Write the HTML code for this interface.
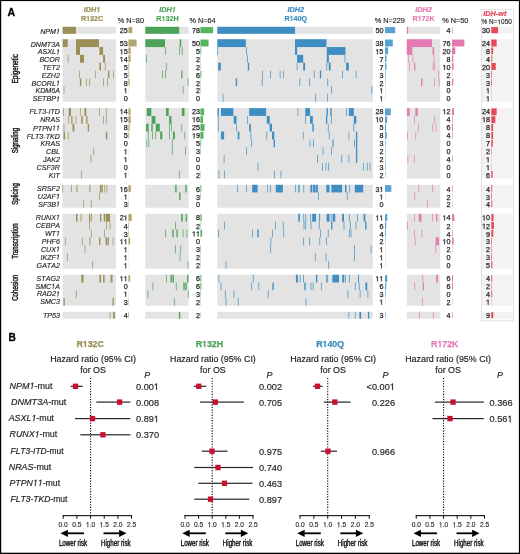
<!DOCTYPE html>
<html><head><meta charset="utf-8"><title>Figure</title>
<style>html,body{margin:0;padding:0;background:#fff;}body{width:520px;height:554px;overflow:hidden;}svg{display:block;will-change:transform;font-family:"Liberation Sans",sans-serif;}</style>
</head><body>
<svg width="520" height="554" viewBox="0 0 520 554">
<rect x="0" y="0" width="520" height="554" fill="#fff"/>
<text x="7.6" y="15.9" font-size="10.6" font-weight="bold" fill="#000" stroke="#000" stroke-width="0.3">A</text>
<g><text x="40.17" y="33.8" font-size="7.1" fill="#231f20" stroke="#231f20" stroke-width="0.15" style="font-kerning:none"><tspan font-style="italic">NPM </tspan></text><path transform="translate(55.951 33.8) scale(0.00347 -0.00347)" d="M412 0L650 1223L289 1000L324 1180L701 1409H867L593 0Z" fill="#231f20" stroke="#231f20" stroke-width="43.27" stroke-linejoin="round"/></g>
<g><text x="30.71" y="46.5" font-size="7.1" fill="#231f20" stroke="#231f20" stroke-width="0.15" style="font-kerning:none"><tspan font-style="italic">DNMT3A</tspan></text></g>
<g><text x="37.8" y="54.4" font-size="7.1" fill="#231f20" stroke="#231f20" stroke-width="0.15" style="font-kerning:none"><tspan font-style="italic">ASXL </tspan></text><path transform="translate(55.951 54.4) scale(0.00347 -0.00347)" d="M412 0L650 1223L289 1000L324 1180L701 1409H867L593 0Z" fill="#231f20" stroke="#231f20" stroke-width="43.27" stroke-linejoin="round"/></g>
<g><text x="39.39" y="62.1" font-size="7.1" fill="#231f20" stroke="#231f20" stroke-width="0.15" style="font-kerning:none"><tspan font-style="italic">BCOR</tspan></text></g>
<g><text x="42.54" y="70.1" font-size="7.1" fill="#231f20" stroke="#231f20" stroke-width="0.15" style="font-kerning:none"><tspan font-style="italic">TET2</tspan></text></g>
<g><text x="41.75" y="77.9" font-size="7.1" fill="#231f20" stroke="#231f20" stroke-width="0.15" style="font-kerning:none"><tspan font-style="italic">EZH2</tspan></text></g>
<g><text x="31.49" y="85.7" font-size="7.1" fill="#231f20" stroke="#231f20" stroke-width="0.15" style="font-kerning:none"><tspan font-style="italic">BCORL </tspan></text><path transform="translate(55.951 85.7) scale(0.00347 -0.00347)" d="M412 0L650 1223L289 1000L324 1180L701 1409H867L593 0Z" fill="#231f20" stroke="#231f20" stroke-width="43.27" stroke-linejoin="round"/></g>
<g><text x="35.44" y="93.4" font-size="7.1" fill="#231f20" stroke="#231f20" stroke-width="0.15" style="font-kerning:none"><tspan font-style="italic">KDM6A</tspan></text></g>
<g><text x="32.67" y="101.4" font-size="7.1" fill="#231f20" stroke="#231f20" stroke-width="0.15" style="font-kerning:none"><tspan font-style="italic">SETBP </tspan></text><path transform="translate(55.951 101.4) scale(0.00347 -0.00347)" d="M412 0L650 1223L289 1000L324 1180L701 1409H867L593 0Z" fill="#231f20" stroke="#231f20" stroke-width="43.27" stroke-linejoin="round"/></g>
<g><text x="29.53" y="114.3" font-size="7.1" fill="#231f20" stroke="#231f20" stroke-width="0.15" style="font-kerning:none"><tspan font-style="italic">FLT3-ITD</tspan></text></g>
<g><text x="40.17" y="122.3" font-size="7.1" fill="#231f20" stroke="#231f20" stroke-width="0.15" style="font-kerning:none"><tspan font-style="italic">NRAS</tspan></text></g>
<g><text x="33.07" y="130.5" font-size="7.1" fill="#231f20" stroke="#231f20" stroke-width="0.15" style="font-kerning:none"><tspan font-style="italic">PTPN  </tspan></text><path transform="translate(52.003 130.5) scale(0.00347 -0.00347)" d="M412 0L650 1223L289 1000L324 1180L701 1409H867L593 0Z" fill="#231f20" stroke="#231f20" stroke-width="43.27" stroke-linejoin="round"/><path transform="translate(55.951 130.5) scale(0.00347 -0.00347)" d="M412 0L650 1223L289 1000L324 1180L701 1409H867L593 0Z" fill="#231f20" stroke="#231f20" stroke-width="43.27" stroke-linejoin="round"/></g>
<g><text x="26.76" y="138.5" font-size="7.1" fill="#231f20" stroke="#231f20" stroke-width="0.15" style="font-kerning:none"><tspan font-style="italic">FLT3-TKD</tspan></text></g>
<g><text x="40.57" y="146.3" font-size="7.1" fill="#231f20" stroke="#231f20" stroke-width="0.15" style="font-kerning:none"><tspan font-style="italic">KRAS</tspan></text></g>
<g><text x="46.09" y="154.4" font-size="7.1" fill="#231f20" stroke="#231f20" stroke-width="0.15" style="font-kerning:none"><tspan font-style="italic">CBL</tspan></text></g>
<g><text x="42.93" y="162.3" font-size="7.1" fill="#231f20" stroke="#231f20" stroke-width="0.15" style="font-kerning:none"><tspan font-style="italic">JAK2</tspan></text></g>
<g><text x="36.62" y="170.3" font-size="7.1" fill="#231f20" stroke="#231f20" stroke-width="0.15" style="font-kerning:none"><tspan font-style="italic">CSF3R</tspan></text></g>
<g><text x="48.85" y="178" font-size="7.1" fill="#231f20" stroke="#231f20" stroke-width="0.15" style="font-kerning:none"><tspan font-style="italic">KIT</tspan></text></g>
<g><text x="37.02" y="191.2" font-size="7.1" fill="#231f20" stroke="#231f20" stroke-width="0.15" style="font-kerning:none"><tspan font-style="italic">SRSF2</tspan></text></g>
<g><text x="37.8" y="198.9" font-size="7.1" fill="#231f20" stroke="#231f20" stroke-width="0.15" style="font-kerning:none"><tspan font-style="italic">U2AF </tspan></text><path transform="translate(55.951 198.9) scale(0.00347 -0.00347)" d="M412 0L650 1223L289 1000L324 1180L701 1409H867L593 0Z" fill="#231f20" stroke="#231f20" stroke-width="43.27" stroke-linejoin="round"/></g>
<g><text x="38.19" y="206.6" font-size="7.1" fill="#231f20" stroke="#231f20" stroke-width="0.15" style="font-kerning:none"><tspan font-style="italic">SF3B </tspan></text><path transform="translate(55.951 206.6) scale(0.00347 -0.00347)" d="M412 0L650 1223L289 1000L324 1180L701 1409H867L593 0Z" fill="#231f20" stroke="#231f20" stroke-width="43.27" stroke-linejoin="round"/></g>
<g><text x="35.83" y="219.7" font-size="7.1" fill="#231f20" stroke="#231f20" stroke-width="0.15" style="font-kerning:none"><tspan font-style="italic">RUNX </tspan></text><path transform="translate(55.951 219.7) scale(0.00347 -0.00347)" d="M412 0L650 1223L289 1000L324 1180L701 1409H867L593 0Z" fill="#231f20" stroke="#231f20" stroke-width="43.27" stroke-linejoin="round"/></g>
<g><text x="35.83" y="228" font-size="7.1" fill="#231f20" stroke="#231f20" stroke-width="0.15" style="font-kerning:none"><tspan font-style="italic">CEBPA</tspan></text></g>
<g><text x="44.91" y="235.8" font-size="7.1" fill="#231f20" stroke="#231f20" stroke-width="0.15" style="font-kerning:none"><tspan font-style="italic">WT </tspan></text><path transform="translate(55.951 235.8) scale(0.00347 -0.00347)" d="M412 0L650 1223L289 1000L324 1180L701 1409H867L593 0Z" fill="#231f20" stroke="#231f20" stroke-width="43.27" stroke-linejoin="round"/></g>
<g><text x="41.75" y="243.6" font-size="7.1" fill="#231f20" stroke="#231f20" stroke-width="0.15" style="font-kerning:none"><tspan font-style="italic">PHF6</tspan></text></g>
<g><text x="40.96" y="251.6" font-size="7.1" fill="#231f20" stroke="#231f20" stroke-width="0.15" style="font-kerning:none"><tspan font-style="italic">CUX </tspan></text><path transform="translate(55.951 251.6) scale(0.00347 -0.00347)" d="M412 0L650 1223L289 1000L324 1180L701 1409H867L593 0Z" fill="#231f20" stroke="#231f20" stroke-width="43.27" stroke-linejoin="round"/></g>
<g><text x="40.57" y="259.6" font-size="7.1" fill="#231f20" stroke="#231f20" stroke-width="0.15" style="font-kerning:none"><tspan font-style="italic">IKZF </tspan></text><path transform="translate(55.951 259.6) scale(0.00347 -0.00347)" d="M412 0L650 1223L289 1000L324 1180L701 1409H867L593 0Z" fill="#231f20" stroke="#231f20" stroke-width="43.27" stroke-linejoin="round"/></g>
<g><text x="36.62" y="267.6" font-size="7.1" fill="#231f20" stroke="#231f20" stroke-width="0.15" style="font-kerning:none"><tspan font-style="italic">GATA2</tspan></text></g>
<g><text x="36.62" y="280.9" font-size="7.1" fill="#231f20" stroke="#231f20" stroke-width="0.15" style="font-kerning:none"><tspan font-style="italic">STAG2</tspan></text></g>
<g><text x="35.44" y="288.7" font-size="7.1" fill="#231f20" stroke="#231f20" stroke-width="0.15" style="font-kerning:none"><tspan font-style="italic">SMC A</tspan></text><path transform="translate(51.216 288.7) scale(0.00347 -0.00347)" d="M412 0L650 1223L289 1000L324 1180L701 1409H867L593 0Z" fill="#231f20" stroke="#231f20" stroke-width="43.27" stroke-linejoin="round"/></g>
<g><text x="37.01" y="296.4" font-size="7.1" fill="#231f20" stroke="#231f20" stroke-width="0.15" style="font-kerning:none"><tspan font-style="italic">RAD2 </tspan></text><path transform="translate(55.951 296.4) scale(0.00347 -0.00347)" d="M412 0L650 1223L289 1000L324 1180L701 1409H867L593 0Z" fill="#231f20" stroke="#231f20" stroke-width="43.27" stroke-linejoin="round"/></g>
<g><text x="40.17" y="304.3" font-size="7.1" fill="#231f20" stroke="#231f20" stroke-width="0.15" style="font-kerning:none"><tspan font-style="italic">SMC3</tspan></text></g>
<g><text x="42.93" y="317.8" font-size="7.1" fill="#231f20" stroke="#231f20" stroke-width="0.15" style="font-kerning:none"><tspan font-style="italic">TP53</tspan></text></g>
<text transform="translate(18.4 68.7) rotate(-90) scale(0.72 1)" x="0" y="0" font-size="8.6" fill="#111" stroke="#111" stroke-width="0.4" text-anchor="middle">Epigenetic</text>
<text transform="translate(18.4 140.6) rotate(-90) scale(0.72 1)" x="0" y="0" font-size="8.6" fill="#111" stroke="#111" stroke-width="0.4" text-anchor="middle">Signaling</text>
<text transform="translate(18.4 194) rotate(-90) scale(0.72 1)" x="0" y="0" font-size="8.6" fill="#111" stroke="#111" stroke-width="0.4" text-anchor="middle">Splicing</text>
<text transform="translate(18.4 241) rotate(-90) scale(0.72 1)" x="0" y="0" font-size="8.6" fill="#111" stroke="#111" stroke-width="0.4" text-anchor="middle">Transcription</text>
<text transform="translate(18.4 287.8) rotate(-90) scale(0.72 1)" x="0" y="0" font-size="8.6" fill="#111" stroke="#111" stroke-width="0.4" text-anchor="middle">Cohesion</text>
<rect x="62.6" y="26.8" width="53.3" height="7" fill="#e3e3e3"/>
<rect x="62.6" y="39.25" width="53.3" height="62.5" fill="#e3e3e3"/>
<rect x="62.6" y="108.1" width="53.3" height="70.4" fill="#e3e3e3"/>
<rect x="62.6" y="184.8" width="53.3" height="22.9" fill="#e3e3e3"/>
<rect x="62.6" y="213.8" width="53.3" height="54.9" fill="#e3e3e3"/>
<rect x="62.6" y="274.75" width="53.3" height="31" fill="#e3e3e3"/>
<rect x="62.6" y="311.8" width="53.3" height="6.9" fill="#e3e3e3"/>
<g fill="#9b8f58"><rect x="62.6" y="26.8" width="13.3" height="7"/><rect x="62.6" y="39.25" width="5.15" height="7.81"/><rect x="76" y="39.25" width="23" height="7.81"/><rect x="76" y="47.06" width="4" height="7.81"/><rect x="99.4" y="47.06" width="3.7" height="7.81"/><rect x="67.75" y="54.88" width="0.7" height="7.81"/><rect x="80" y="54.88" width="4" height="7.81"/><rect x="103.1" y="54.88" width="1.9" height="7.81"/><rect x="99.4" y="62.69" width="1.6" height="7.81"/><rect x="104.85" y="62.69" width="0.7" height="7.81"/><rect x="79.05" y="70.5" width="0.7" height="7.81"/><rect x="94.9" y="70.5" width="0.7" height="7.81"/><rect x="108.08" y="70.5" width="1.35" height="7.81"/><rect x="113.15" y="70.5" width="0.7" height="7.81"/><rect x="79.92" y="78.31" width="1.35" height="7.81"/><rect x="85.9" y="78.31" width="0.7" height="7.81"/><rect x="89.4" y="78.31" width="0.7" height="7.81"/><rect x="103.15" y="78.31" width="0.7" height="7.81"/><rect x="107.15" y="78.31" width="0.7" height="7.81"/><rect x="63.65" y="86.12" width="0.7" height="7.81"/><rect x="63.05" y="108.1" width="0.7" height="7.82"/><rect x="68.75" y="108.1" width="2.25" height="7.82"/><rect x="79.9" y="108.1" width="0.7" height="7.82"/><rect x="84.4" y="108.1" width="1.85" height="7.82"/><rect x="99.05" y="108.1" width="0.7" height="7.82"/><rect x="105.9" y="108.1" width="0.7" height="7.82"/><rect x="68.4" y="115.92" width="0.7" height="7.82"/><rect x="71.25" y="115.92" width="1.25" height="7.82"/><rect x="75.65" y="115.92" width="0.7" height="7.82"/><rect x="81.25" y="115.92" width="1.5" height="7.82"/><rect x="86.25" y="115.92" width="1.25" height="7.82"/><rect x="103.15" y="115.92" width="0.7" height="7.82"/><rect x="105.9" y="115.92" width="0.7" height="7.82"/><rect x="63.65" y="123.74" width="0.7" height="7.82"/><rect x="72.5" y="123.74" width="1.9" height="7.82"/><rect x="87.75" y="123.74" width="1.35" height="7.82"/><rect x="63.5" y="131.57" width="1.5" height="7.82"/><rect x="67.75" y="131.57" width="0.7" height="7.82"/><rect x="105.92" y="131.57" width="1.35" height="7.82"/><rect x="93.4" y="147.21" width="0.7" height="7.82"/><rect x="90.65" y="155.03" width="0.7" height="7.82"/><rect x="81.25" y="170.68" width="0.7" height="7.82"/><rect x="62.4" y="184.8" width="0.7" height="7.63"/><rect x="71.15" y="184.8" width="0.7" height="7.63"/><rect x="76.5" y="184.8" width="1" height="7.63"/><rect x="89.4" y="184.8" width="1" height="7.63"/><rect x="99.92" y="184.8" width="1.35" height="7.63"/><rect x="101.42" y="184.8" width="1.35" height="7.63"/><rect x="104.4" y="184.8" width="0.7" height="7.63"/><rect x="106.55" y="184.8" width="0.7" height="7.63"/><rect x="99.05" y="192.43" width="0.7" height="7.63"/><rect x="83.15" y="200.07" width="0.7" height="7.63"/><rect x="90.9" y="200.07" width="0.7" height="7.63"/><rect x="76" y="213.8" width="1.5" height="7.84"/><rect x="80.6" y="213.8" width="0.9" height="7.84"/><rect x="89" y="213.8" width="1.25" height="7.84"/><rect x="91.25" y="213.8" width="0.75" height="7.84"/><rect x="100" y="213.8" width="1.25" height="7.84"/><rect x="103.75" y="213.8" width="1.25" height="7.84"/><rect x="105.6" y="213.8" width="4.4" height="7.84"/><rect x="89.05" y="221.64" width="0.7" height="7.84"/><rect x="106.15" y="221.64" width="0.7" height="7.84"/><rect x="109.65" y="221.64" width="0.7" height="7.84"/><rect x="90.9" y="229.49" width="0.7" height="7.84"/><rect x="104.05" y="229.49" width="0.7" height="7.84"/><rect x="64.9" y="237.33" width="0.7" height="7.84"/><rect x="81.9" y="237.33" width="0.7" height="7.84"/><rect x="89.5" y="237.33" width="1" height="7.84"/><rect x="99.08" y="237.33" width="1.35" height="7.84"/><rect x="105.58" y="237.33" width="1.35" height="7.84"/><rect x="107.42" y="237.33" width="1.35" height="7.84"/><rect x="112.75" y="237.33" width="0.7" height="7.84"/><rect x="84.65" y="245.17" width="0.7" height="7.84"/><rect x="66.9" y="253.01" width="0.7" height="7.84"/><rect x="92.4" y="260.86" width="0.7" height="7.84"/><rect x="81.25" y="274.75" width="2.25" height="7.75"/><rect x="99.4" y="274.75" width="1.6" height="7.75"/><rect x="103.1" y="274.75" width="1.5" height="7.75"/><rect x="110.6" y="274.75" width="1.9" height="7.75"/><rect x="75.9" y="290.25" width="0.7" height="7.75"/><rect x="63.5" y="298" width="1.25" height="7.75"/><rect x="112.5" y="298" width="1.25" height="7.75"/><rect x="109.65" y="311.8" width="0.7" height="6.9"/><rect x="113.1" y="311.8" width="1.65" height="6.9"/></g>
<g><text x="83.78" y="12.2" font-size="7.3" fill="#9b8f58" stroke="#9b8f58" stroke-width="0.2" style="font-kerning:none"><tspan font-weight="bold" font-style="italic">IDH </tspan></text><path transform="translate(96.356 12.2) scale(0.00356 -0.00356)" d="M380 0L604 1152L223 938L270 1180L666 1409H936L661 0Z" fill="#9b8f58" stroke="#9b8f58" stroke-width="56.11" stroke-linejoin="round"/></g>
<g><text x="80.89" y="21.1" font-size="7.2" fill="#9b8f58" stroke="#9b8f58" stroke-width="0.2" style="font-kerning:none"><tspan font-weight="bold">R 32C</tspan></text><path transform="translate(86.094 21.1) scale(0.00352 -0.00352)" d="M478 0V1170L140 959V1180L493 1409H759V0Z" fill="#9b8f58" stroke="#9b8f58" stroke-width="56.89" stroke-linejoin="round"/></g>
<text x="144" y="23.4" font-size="7.3" fill="#231f20" stroke="#231f20" stroke-width="0.15" text-anchor="end">% N=80</text>
<g><text x="127.7" y="33.4" font-size="7.2" fill="#231f20" stroke="#231f20" stroke-width="0.25" text-anchor="end">25</text><text x="127.7" y="46.4" font-size="7.2" fill="#231f20" stroke="#231f20" stroke-width="0.25" text-anchor="end">53</text><text x="119.69" y="54.3" font-size="7.2" fill="#231f20" stroke="#231f20" stroke-width="0.25"> 5</text><path transform="translate(119.69 54.3) scale(0.00352 -0.00352)" d="M515 0V1237L197 1010V1180L530 1409H696V0Z" fill="#231f20" stroke="#231f20" stroke-width="71.11" stroke-linejoin="round"/><text x="119.69" y="62" font-size="7.2" fill="#231f20" stroke="#231f20" stroke-width="0.25"> 4</text><path transform="translate(119.69 62) scale(0.00352 -0.00352)" d="M515 0V1237L197 1010V1180L530 1409H696V0Z" fill="#231f20" stroke="#231f20" stroke-width="71.11" stroke-linejoin="round"/><text x="127.7" y="70" font-size="7.2" fill="#231f20" stroke="#231f20" stroke-width="0.25" text-anchor="end">5</text><text x="127.7" y="77.8" font-size="7.2" fill="#231f20" stroke="#231f20" stroke-width="0.25" text-anchor="end">5</text><text x="127.7" y="85.6" font-size="7.2" fill="#231f20" stroke="#231f20" stroke-width="0.25" text-anchor="end">8</text><text x="123.7" y="93.3" font-size="7.2" fill="#231f20" stroke="#231f20" stroke-width="0.25"> </text><path transform="translate(123.7 93.3) scale(0.00352 -0.00352)" d="M515 0V1237L197 1010V1180L530 1409H696V0Z" fill="#231f20" stroke="#231f20" stroke-width="71.11" stroke-linejoin="round"/><text x="127.7" y="101.3" font-size="7.2" fill="#231f20" stroke="#231f20" stroke-width="0.25" text-anchor="end">0</text><text x="119.69" y="114.2" font-size="7.2" fill="#231f20" stroke="#231f20" stroke-width="0.25"> 4</text><path transform="translate(119.69 114.2) scale(0.00352 -0.00352)" d="M515 0V1237L197 1010V1180L530 1409H696V0Z" fill="#231f20" stroke="#231f20" stroke-width="71.11" stroke-linejoin="round"/><text x="119.69" y="122.2" font-size="7.2" fill="#231f20" stroke="#231f20" stroke-width="0.25"> 5</text><path transform="translate(119.69 122.2) scale(0.00352 -0.00352)" d="M515 0V1237L197 1010V1180L530 1409H696V0Z" fill="#231f20" stroke="#231f20" stroke-width="71.11" stroke-linejoin="round"/><text x="127.7" y="130.4" font-size="7.2" fill="#231f20" stroke="#231f20" stroke-width="0.25" text-anchor="end">8</text><text x="127.7" y="138.4" font-size="7.2" fill="#231f20" stroke="#231f20" stroke-width="0.25" text-anchor="end">5</text><text x="127.7" y="146.2" font-size="7.2" fill="#231f20" stroke="#231f20" stroke-width="0.25" text-anchor="end">0</text><text x="123.7" y="154.3" font-size="7.2" fill="#231f20" stroke="#231f20" stroke-width="0.25"> </text><path transform="translate(123.7 154.3) scale(0.00352 -0.00352)" d="M515 0V1237L197 1010V1180L530 1409H696V0Z" fill="#231f20" stroke="#231f20" stroke-width="71.11" stroke-linejoin="round"/><text x="123.7" y="162.2" font-size="7.2" fill="#231f20" stroke="#231f20" stroke-width="0.25"> </text><path transform="translate(123.7 162.2) scale(0.00352 -0.00352)" d="M515 0V1237L197 1010V1180L530 1409H696V0Z" fill="#231f20" stroke="#231f20" stroke-width="71.11" stroke-linejoin="round"/><text x="127.7" y="170.2" font-size="7.2" fill="#231f20" stroke="#231f20" stroke-width="0.25" text-anchor="end">0</text><text x="123.7" y="177.9" font-size="7.2" fill="#231f20" stroke="#231f20" stroke-width="0.25"> </text><path transform="translate(123.7 177.9) scale(0.00352 -0.00352)" d="M515 0V1237L197 1010V1180L530 1409H696V0Z" fill="#231f20" stroke="#231f20" stroke-width="71.11" stroke-linejoin="round"/><text x="119.69" y="191.9" font-size="7.2" fill="#231f20" stroke="#231f20" stroke-width="0.25"> 6</text><path transform="translate(119.69 191.9) scale(0.00352 -0.00352)" d="M515 0V1237L197 1010V1180L530 1409H696V0Z" fill="#231f20" stroke="#231f20" stroke-width="71.11" stroke-linejoin="round"/><text x="123.7" y="199.6" font-size="7.2" fill="#231f20" stroke="#231f20" stroke-width="0.25"> </text><path transform="translate(123.7 199.6) scale(0.00352 -0.00352)" d="M515 0V1237L197 1010V1180L530 1409H696V0Z" fill="#231f20" stroke="#231f20" stroke-width="71.11" stroke-linejoin="round"/><text x="127.7" y="207.3" font-size="7.2" fill="#231f20" stroke="#231f20" stroke-width="0.25" text-anchor="end">3</text><text x="119.69" y="220.4" font-size="7.2" fill="#231f20" stroke="#231f20" stroke-width="0.25">2 </text><path transform="translate(123.7 220.4) scale(0.00352 -0.00352)" d="M515 0V1237L197 1010V1180L530 1409H696V0Z" fill="#231f20" stroke="#231f20" stroke-width="71.11" stroke-linejoin="round"/><text x="127.7" y="228.7" font-size="7.2" fill="#231f20" stroke="#231f20" stroke-width="0.25" text-anchor="end">4</text><text x="127.7" y="236.5" font-size="7.2" fill="#231f20" stroke="#231f20" stroke-width="0.25" text-anchor="end">3</text><text x="119.69" y="244.3" font-size="7.2" fill="#231f20" stroke="#231f20" stroke-width="0.25">  </text><path transform="translate(119.69 244.3) scale(0.00352 -0.00352)" d="M515 0V1237L197 1010V1180L530 1409H696V0Z" fill="#231f20" stroke="#231f20" stroke-width="71.11" stroke-linejoin="round"/><path transform="translate(123.7 244.3) scale(0.00352 -0.00352)" d="M515 0V1237L197 1010V1180L530 1409H696V0Z" fill="#231f20" stroke="#231f20" stroke-width="71.11" stroke-linejoin="round"/><text x="123.7" y="252.3" font-size="7.2" fill="#231f20" stroke="#231f20" stroke-width="0.25"> </text><path transform="translate(123.7 252.3) scale(0.00352 -0.00352)" d="M515 0V1237L197 1010V1180L530 1409H696V0Z" fill="#231f20" stroke="#231f20" stroke-width="71.11" stroke-linejoin="round"/><text x="123.7" y="260.3" font-size="7.2" fill="#231f20" stroke="#231f20" stroke-width="0.25"> </text><path transform="translate(123.7 260.3) scale(0.00352 -0.00352)" d="M515 0V1237L197 1010V1180L530 1409H696V0Z" fill="#231f20" stroke="#231f20" stroke-width="71.11" stroke-linejoin="round"/><text x="123.7" y="268.3" font-size="7.2" fill="#231f20" stroke="#231f20" stroke-width="0.25"> </text><path transform="translate(123.7 268.3) scale(0.00352 -0.00352)" d="M515 0V1237L197 1010V1180L530 1409H696V0Z" fill="#231f20" stroke="#231f20" stroke-width="71.11" stroke-linejoin="round"/><text x="119.69" y="281.3" font-size="7.2" fill="#231f20" stroke="#231f20" stroke-width="0.25">  </text><path transform="translate(119.69 281.3) scale(0.00352 -0.00352)" d="M515 0V1237L197 1010V1180L530 1409H696V0Z" fill="#231f20" stroke="#231f20" stroke-width="71.11" stroke-linejoin="round"/><path transform="translate(123.7 281.3) scale(0.00352 -0.00352)" d="M515 0V1237L197 1010V1180L530 1409H696V0Z" fill="#231f20" stroke="#231f20" stroke-width="71.11" stroke-linejoin="round"/><text x="127.7" y="289.1" font-size="7.2" fill="#231f20" stroke="#231f20" stroke-width="0.25" text-anchor="end">0</text><text x="123.7" y="296.8" font-size="7.2" fill="#231f20" stroke="#231f20" stroke-width="0.25"> </text><path transform="translate(123.7 296.8) scale(0.00352 -0.00352)" d="M515 0V1237L197 1010V1180L530 1409H696V0Z" fill="#231f20" stroke="#231f20" stroke-width="71.11" stroke-linejoin="round"/><text x="127.7" y="304.7" font-size="7.2" fill="#231f20" stroke="#231f20" stroke-width="0.25" text-anchor="end">3</text><text x="127.7" y="318.1" font-size="7.2" fill="#231f20" stroke="#231f20" stroke-width="0.25" text-anchor="end">4</text></g>
<g fill="#b1a471"><rect x="128.4" y="27.1" width="3.88" height="6.1"/><rect x="128.4" y="39.55" width="8.21" height="6.91"/><rect x="128.4" y="47.36" width="2.33" height="6.91"/><rect x="128.4" y="55.17" width="2.17" height="6.91"/><rect x="128.4" y="62.99" width="0.78" height="6.91"/><rect x="128.4" y="70.8" width="0.78" height="6.91"/><rect x="128.4" y="78.61" width="1.24" height="6.91"/><rect x="128.4" y="86.42" width="0.15" height="6.91"/><rect x="128.4" y="108.4" width="2.17" height="6.92"/><rect x="128.4" y="116.22" width="2.33" height="6.92"/><rect x="128.4" y="124.04" width="1.24" height="6.92"/><rect x="128.4" y="131.87" width="0.78" height="6.92"/><rect x="128.4" y="147.51" width="0.15" height="6.92"/><rect x="128.4" y="155.33" width="0.15" height="6.92"/><rect x="128.4" y="170.98" width="0.15" height="6.92"/><rect x="128.4" y="185.1" width="2.48" height="6.73"/><rect x="128.4" y="192.73" width="0.15" height="6.73"/><rect x="128.4" y="200.37" width="0.46" height="6.73"/><rect x="128.4" y="214.1" width="3.25" height="6.94"/><rect x="128.4" y="221.94" width="0.62" height="6.94"/><rect x="128.4" y="229.79" width="0.46" height="6.94"/><rect x="128.4" y="237.63" width="1.71" height="6.94"/><rect x="128.4" y="245.47" width="0.15" height="6.94"/><rect x="128.4" y="253.31" width="0.15" height="6.94"/><rect x="128.4" y="261.16" width="0.15" height="6.94"/><rect x="128.4" y="275.05" width="1.71" height="6.85"/><rect x="128.4" y="290.55" width="0.15" height="6.85"/><rect x="128.4" y="298.3" width="0.46" height="6.85"/><rect x="128.4" y="312.1" width="0.62" height="6"/></g>
<rect x="145.3" y="26.8" width="43.4" height="7" fill="#e3e3e3"/>
<rect x="145.3" y="39.25" width="43.4" height="62.5" fill="#e3e3e3"/>
<rect x="145.3" y="108.1" width="43.4" height="70.4" fill="#e3e3e3"/>
<rect x="145.3" y="184.8" width="43.4" height="22.9" fill="#e3e3e3"/>
<rect x="145.3" y="213.8" width="43.4" height="54.9" fill="#e3e3e3"/>
<rect x="145.3" y="274.75" width="43.4" height="31" fill="#e3e3e3"/>
<rect x="145.3" y="311.8" width="43.4" height="6.9" fill="#e3e3e3"/>
<g fill="#4ca358"><rect x="145.3" y="26.8" width="33.9" height="7"/><rect x="145.3" y="39.25" width="19.7" height="7.81"/><rect x="179.7" y="39.25" width="1.5" height="7.81"/><rect x="165.05" y="47.06" width="0.7" height="7.81"/><rect x="179.35" y="47.06" width="0.7" height="7.81"/><rect x="181.85" y="47.06" width="0.7" height="7.81"/><rect x="146.05" y="54.88" width="0.7" height="7.81"/><rect x="165.95" y="62.69" width="0.7" height="7.81"/><rect x="162.15" y="70.5" width="0.7" height="7.81"/><rect x="165.05" y="70.5" width="0.7" height="7.81"/><rect x="181.2" y="70.5" width="1.2" height="7.81"/><rect x="187.75" y="78.31" width="0.7" height="7.81"/><rect x="182.75" y="86.12" width="0.7" height="7.81"/><rect x="146.8" y="108.1" width="4.5" height="7.82"/><rect x="166" y="108.1" width="2.7" height="7.82"/><rect x="181.8" y="108.1" width="2.7" height="7.82"/><rect x="151.6" y="115.92" width="3.8" height="7.82"/><rect x="169.2" y="115.92" width="2.3" height="7.82"/><rect x="146.1" y="123.74" width="2.5" height="7.82"/><rect x="151.3" y="123.74" width="1.4" height="7.82"/><rect x="155.7" y="123.74" width="4.1" height="7.82"/><rect x="169.05" y="123.74" width="0.7" height="7.82"/><rect x="171.15" y="123.74" width="0.7" height="7.82"/><rect x="181.45" y="123.74" width="0.7" height="7.82"/><rect x="147.85" y="131.57" width="0.7" height="7.82"/><rect x="152.35" y="131.57" width="0.7" height="7.82"/><rect x="155.35" y="131.57" width="0.7" height="7.82"/><rect x="160.2" y="131.57" width="2.1" height="7.82"/><rect x="169.05" y="131.57" width="0.7" height="7.82"/><rect x="172.9" y="131.57" width="2" height="7.82"/><rect x="184.45" y="131.57" width="0.7" height="7.82"/><rect x="146.45" y="139.39" width="0.7" height="7.82"/><rect x="148.55" y="139.39" width="0.7" height="7.82"/><rect x="171.85" y="139.39" width="0.7" height="7.82"/><rect x="171.85" y="147.21" width="0.7" height="7.82"/><rect x="185.25" y="147.21" width="0.7" height="7.82"/><rect x="178.95" y="170.68" width="0.7" height="7.82"/><rect x="175.22" y="184.8" width="1.35" height="7.63"/><rect x="185.32" y="184.8" width="1.35" height="7.63"/><rect x="179.22" y="192.43" width="1.35" height="7.63"/><rect x="181.2" y="213.8" width="1.5" height="7.84"/><rect x="185.6" y="213.8" width="1.3" height="7.84"/><rect x="175.15" y="221.64" width="0.7" height="7.84"/><rect x="165.05" y="229.49" width="0.7" height="7.84"/><rect x="172.32" y="229.49" width="1.35" height="7.84"/><rect x="176.42" y="229.49" width="1.35" height="7.84"/><rect x="182.75" y="229.49" width="0.7" height="7.84"/><rect x="186.55" y="229.49" width="0.7" height="7.84"/><rect x="175.05" y="245.17" width="0.7" height="7.84"/><rect x="180.45" y="245.17" width="0.7" height="7.84"/><rect x="179.65" y="253.01" width="0.7" height="7.84"/><rect x="187.75" y="260.86" width="0.7" height="7.84"/><rect x="166.15" y="274.75" width="0.7" height="7.75"/><rect x="170.52" y="274.75" width="1.35" height="7.75"/><rect x="172.52" y="274.75" width="1.35" height="7.75"/><rect x="187.12" y="274.75" width="1.35" height="7.75"/><rect x="152.55" y="282.5" width="0.7" height="7.75"/><rect x="175.85" y="282.5" width="0.7" height="7.75"/><rect x="183.32" y="282.5" width="1.35" height="7.75"/><rect x="185.32" y="282.5" width="1.35" height="7.75"/><rect x="147.55" y="290.25" width="0.7" height="7.75"/><rect x="187.95" y="290.25" width="0.7" height="7.75"/><rect x="173.95" y="298" width="0.7" height="7.75"/><rect x="178.92" y="311.8" width="1.35" height="6.9"/></g>
<g><text x="159.18" y="12.2" font-size="7.3" fill="#4ca358" stroke="#4ca358" stroke-width="0.2" style="font-kerning:none"><tspan font-weight="bold" font-style="italic">IDH </tspan></text><path transform="translate(171.756 12.2) scale(0.00356 -0.00356)" d="M380 0L604 1152L223 938L270 1180L666 1409H936L661 0Z" fill="#4ca358" stroke="#4ca358" stroke-width="56.11" stroke-linejoin="round"/></g>
<g><text x="156.29" y="21.1" font-size="7.2" fill="#4ca358" stroke="#4ca358" stroke-width="0.2" style="font-kerning:none"><tspan font-weight="bold">R 32H</tspan></text><path transform="translate(161.494 21.1) scale(0.00352 -0.00352)" d="M478 0V1170L140 959V1180L493 1409H759V0Z" fill="#4ca358" stroke="#4ca358" stroke-width="56.89" stroke-linejoin="round"/></g>
<text x="215.7" y="23.4" font-size="7.3" fill="#231f20" stroke="#231f20" stroke-width="0.15" text-anchor="end">% N=64</text>
<g><text x="200" y="33.4" font-size="7.2" fill="#231f20" stroke="#231f20" stroke-width="0.25" text-anchor="end">78</text><text x="200" y="46.4" font-size="7.2" fill="#231f20" stroke="#231f20" stroke-width="0.25" text-anchor="end">50</text><text x="200" y="54.3" font-size="7.2" fill="#231f20" stroke="#231f20" stroke-width="0.25" text-anchor="end">5</text><text x="200" y="62" font-size="7.2" fill="#231f20" stroke="#231f20" stroke-width="0.25" text-anchor="end">2</text><text x="200" y="70" font-size="7.2" fill="#231f20" stroke="#231f20" stroke-width="0.25" text-anchor="end">2</text><text x="200" y="77.8" font-size="7.2" fill="#231f20" stroke="#231f20" stroke-width="0.25" text-anchor="end">6</text><text x="200" y="85.6" font-size="7.2" fill="#231f20" stroke="#231f20" stroke-width="0.25" text-anchor="end">2</text><text x="200" y="93.3" font-size="7.2" fill="#231f20" stroke="#231f20" stroke-width="0.25" text-anchor="end">2</text><text x="200" y="101.3" font-size="7.2" fill="#231f20" stroke="#231f20" stroke-width="0.25" text-anchor="end">0</text><text x="200" y="114.2" font-size="7.2" fill="#231f20" stroke="#231f20" stroke-width="0.25" text-anchor="end">23</text><text x="191.99" y="122.2" font-size="7.2" fill="#231f20" stroke="#231f20" stroke-width="0.25"> 6</text><path transform="translate(191.99 122.2) scale(0.00352 -0.00352)" d="M515 0V1237L197 1010V1180L530 1409H696V0Z" fill="#231f20" stroke="#231f20" stroke-width="71.11" stroke-linejoin="round"/><text x="200" y="130.4" font-size="7.2" fill="#231f20" stroke="#231f20" stroke-width="0.25" text-anchor="end">25</text><text x="191.99" y="138.4" font-size="7.2" fill="#231f20" stroke="#231f20" stroke-width="0.25"> 9</text><path transform="translate(191.99 138.4) scale(0.00352 -0.00352)" d="M515 0V1237L197 1010V1180L530 1409H696V0Z" fill="#231f20" stroke="#231f20" stroke-width="71.11" stroke-linejoin="round"/><text x="200" y="146.2" font-size="7.2" fill="#231f20" stroke="#231f20" stroke-width="0.25" text-anchor="end">5</text><text x="200" y="154.3" font-size="7.2" fill="#231f20" stroke="#231f20" stroke-width="0.25" text-anchor="end">3</text><text x="200" y="162.2" font-size="7.2" fill="#231f20" stroke="#231f20" stroke-width="0.25" text-anchor="end">0</text><text x="200" y="170.2" font-size="7.2" fill="#231f20" stroke="#231f20" stroke-width="0.25" text-anchor="end">0</text><text x="200" y="177.9" font-size="7.2" fill="#231f20" stroke="#231f20" stroke-width="0.25" text-anchor="end">2</text><text x="200" y="191.9" font-size="7.2" fill="#231f20" stroke="#231f20" stroke-width="0.25" text-anchor="end">6</text><text x="200" y="199.6" font-size="7.2" fill="#231f20" stroke="#231f20" stroke-width="0.25" text-anchor="end">3</text><text x="200" y="207.3" font-size="7.2" fill="#231f20" stroke="#231f20" stroke-width="0.25" text-anchor="end">0</text><text x="200" y="220.4" font-size="7.2" fill="#231f20" stroke="#231f20" stroke-width="0.25" text-anchor="end">8</text><text x="200" y="228.7" font-size="7.2" fill="#231f20" stroke="#231f20" stroke-width="0.25" text-anchor="end">2</text><text x="191.99" y="236.5" font-size="7.2" fill="#231f20" stroke="#231f20" stroke-width="0.25">  </text><path transform="translate(191.99 236.5) scale(0.00352 -0.00352)" d="M515 0V1237L197 1010V1180L530 1409H696V0Z" fill="#231f20" stroke="#231f20" stroke-width="71.11" stroke-linejoin="round"/><path transform="translate(196 236.5) scale(0.00352 -0.00352)" d="M515 0V1237L197 1010V1180L530 1409H696V0Z" fill="#231f20" stroke="#231f20" stroke-width="71.11" stroke-linejoin="round"/><text x="200" y="244.3" font-size="7.2" fill="#231f20" stroke="#231f20" stroke-width="0.25" text-anchor="end">0</text><text x="200" y="252.3" font-size="7.2" fill="#231f20" stroke="#231f20" stroke-width="0.25" text-anchor="end">3</text><text x="200" y="260.3" font-size="7.2" fill="#231f20" stroke="#231f20" stroke-width="0.25" text-anchor="end">2</text><text x="200" y="268.3" font-size="7.2" fill="#231f20" stroke="#231f20" stroke-width="0.25" text-anchor="end">2</text><text x="200" y="281.3" font-size="7.2" fill="#231f20" stroke="#231f20" stroke-width="0.25" text-anchor="end">6</text><text x="200" y="289.1" font-size="7.2" fill="#231f20" stroke="#231f20" stroke-width="0.25" text-anchor="end">6</text><text x="200" y="296.8" font-size="7.2" fill="#231f20" stroke="#231f20" stroke-width="0.25" text-anchor="end">3</text><text x="200" y="304.7" font-size="7.2" fill="#231f20" stroke="#231f20" stroke-width="0.25" text-anchor="end">2</text><text x="200" y="318.1" font-size="7.2" fill="#231f20" stroke="#231f20" stroke-width="0.25" text-anchor="end">2</text></g>
<g fill="#54b560"><rect x="200.4" y="27.1" width="12.71" height="6.1"/><rect x="200.4" y="39.55" width="8.15" height="6.91"/><rect x="200.4" y="47.36" width="0.82" height="6.91"/><rect x="200.4" y="55.17" width="0.33" height="6.91"/><rect x="200.4" y="62.99" width="0.33" height="6.91"/><rect x="200.4" y="70.8" width="0.98" height="6.91"/><rect x="200.4" y="78.61" width="0.33" height="6.91"/><rect x="200.4" y="86.42" width="0.33" height="6.91"/><rect x="200.4" y="108.4" width="3.75" height="6.92"/><rect x="200.4" y="116.22" width="2.61" height="6.92"/><rect x="200.4" y="124.04" width="4.08" height="6.92"/><rect x="200.4" y="131.87" width="3.1" height="6.92"/><rect x="200.4" y="139.69" width="0.82" height="6.92"/><rect x="200.4" y="147.51" width="0.49" height="6.92"/><rect x="200.4" y="170.98" width="0.33" height="6.92"/><rect x="200.4" y="185.1" width="0.98" height="6.73"/><rect x="200.4" y="192.73" width="0.49" height="6.73"/><rect x="200.4" y="214.1" width="1.3" height="6.94"/><rect x="200.4" y="221.94" width="0.33" height="6.94"/><rect x="200.4" y="229.79" width="1.79" height="6.94"/><rect x="200.4" y="245.47" width="0.49" height="6.94"/><rect x="200.4" y="253.31" width="0.33" height="6.94"/><rect x="200.4" y="261.16" width="0.33" height="6.94"/><rect x="200.4" y="275.05" width="0.98" height="6.85"/><rect x="200.4" y="282.8" width="0.98" height="6.85"/><rect x="200.4" y="290.55" width="0.49" height="6.85"/><rect x="200.4" y="298.3" width="0.33" height="6.85"/><rect x="200.4" y="312.1" width="0.33" height="6"/></g>
<rect x="217.3" y="26.8" width="155.5" height="7" fill="#e3e3e3"/>
<rect x="217.3" y="39.25" width="155.5" height="62.5" fill="#e3e3e3"/>
<rect x="217.3" y="108.1" width="155.5" height="70.4" fill="#e3e3e3"/>
<rect x="217.3" y="184.8" width="155.5" height="22.9" fill="#e3e3e3"/>
<rect x="217.3" y="213.8" width="155.5" height="54.9" fill="#e3e3e3"/>
<rect x="217.3" y="274.75" width="155.5" height="31" fill="#e3e3e3"/>
<rect x="217.3" y="311.8" width="155.5" height="6.9" fill="#e3e3e3"/>
<g fill="#3e8ec4"><rect x="217.3" y="26.8" width="77.7" height="7"/><rect x="217.3" y="39.25" width="28.5" height="7.81"/><rect x="295" y="39.25" width="31.4" height="7.81"/><rect x="217.25" y="47.06" width="0.7" height="7.81"/><rect x="246.25" y="47.06" width="0.7" height="7.81"/><rect x="295" y="47.06" width="2.1" height="7.81"/><rect x="326.8" y="47.06" width="18.7" height="7.81"/><rect x="247.25" y="54.88" width="0.7" height="7.81"/><rect x="297.1" y="54.88" width="6.1" height="7.81"/><rect x="326.8" y="54.88" width="2" height="7.81"/><rect x="344.65" y="54.88" width="0.7" height="7.81"/><rect x="218.2" y="62.69" width="2.6" height="7.81"/><rect x="247.82" y="62.69" width="1.35" height="7.81"/><rect x="296.75" y="62.69" width="0.7" height="7.81"/><rect x="303.2" y="62.69" width="1.9" height="7.81"/><rect x="326.45" y="62.69" width="0.7" height="7.81"/><rect x="328.8" y="62.69" width="1.8" height="7.81"/><rect x="346.1" y="62.69" width="2.7" height="7.81"/><rect x="262.15" y="70.5" width="0.7" height="7.81"/><rect x="270.15" y="70.5" width="0.7" height="7.81"/><rect x="279.75" y="70.5" width="0.7" height="7.81"/><rect x="283.15" y="70.5" width="0.7" height="7.81"/><rect x="313.85" y="70.5" width="0.7" height="7.81"/><rect x="319.82" y="70.5" width="1.35" height="7.81"/><rect x="342.05" y="70.5" width="0.7" height="7.81"/><rect x="355.75" y="70.5" width="0.7" height="7.81"/><rect x="235.72" y="78.31" width="1.35" height="7.81"/><rect x="261.85" y="78.31" width="0.7" height="7.81"/><rect x="299.45" y="78.31" width="0.7" height="7.81"/><rect x="309.35" y="78.31" width="0.7" height="7.81"/><rect x="327.45" y="78.31" width="0.7" height="7.81"/><rect x="331.05" y="86.12" width="0.7" height="7.81"/><rect x="371.45" y="86.12" width="0.7" height="7.81"/><rect x="222.75" y="93.94" width="0.7" height="7.81"/><rect x="315.35" y="93.94" width="0.7" height="7.81"/><rect x="327.35" y="93.94" width="0.7" height="7.81"/><rect x="217.5" y="108.1" width="1.4" height="7.82"/><rect x="221" y="108.1" width="12.4" height="7.82"/><rect x="249.2" y="108.1" width="16.9" height="7.82"/><rect x="297.55" y="108.1" width="0.7" height="7.82"/><rect x="305.3" y="108.1" width="4.7" height="7.82"/><rect x="326.52" y="108.1" width="1.35" height="7.82"/><rect x="330.32" y="108.1" width="1.35" height="7.82"/><rect x="346.15" y="108.1" width="0.7" height="7.82"/><rect x="348.9" y="108.1" width="4.9" height="7.82"/><rect x="217.85" y="115.92" width="0.7" height="7.82"/><rect x="233.7" y="115.92" width="2.8" height="7.82"/><rect x="247.15" y="115.92" width="0.7" height="7.82"/><rect x="266.8" y="115.92" width="2.9" height="7.82"/><rect x="305.35" y="115.92" width="0.7" height="7.82"/><rect x="310" y="115.92" width="2.8" height="7.82"/><rect x="325.93" y="115.92" width="1.35" height="7.82"/><rect x="330.95" y="115.92" width="0.7" height="7.82"/><rect x="353.8" y="115.92" width="2.5" height="7.82"/><rect x="217.85" y="123.74" width="0.7" height="7.82"/><rect x="236.15" y="123.74" width="0.7" height="7.82"/><rect x="249.2" y="123.74" width="1.7" height="7.82"/><rect x="269.6" y="123.74" width="2.4" height="7.82"/><rect x="312.4" y="123.74" width="1.4" height="7.82"/><rect x="327.85" y="123.74" width="0.7" height="7.82"/><rect x="353.45" y="123.74" width="0.7" height="7.82"/><rect x="221" y="131.57" width="3.1" height="7.82"/><rect x="237.7" y="131.57" width="1.7" height="7.82"/><rect x="250.55" y="131.57" width="0.7" height="7.82"/><rect x="266.45" y="131.57" width="0.7" height="7.82"/><rect x="272" y="131.57" width="2.3" height="7.82"/><rect x="302.85" y="131.57" width="0.7" height="7.82"/><rect x="328.85" y="131.57" width="0.7" height="7.82"/><rect x="348.55" y="131.57" width="0.7" height="7.82"/><rect x="355.93" y="131.57" width="1.35" height="7.82"/><rect x="251.35" y="139.39" width="0.7" height="7.82"/><rect x="273.62" y="139.39" width="1.35" height="7.82"/><rect x="309.65" y="139.39" width="0.7" height="7.82"/><rect x="313.05" y="139.39" width="0.7" height="7.82"/><rect x="332.5" y="139.39" width="1" height="7.82"/><rect x="354.15" y="139.39" width="0.7" height="7.82"/><rect x="355.93" y="139.39" width="1.35" height="7.82"/><rect x="246.05" y="147.21" width="0.7" height="7.82"/><rect x="322.65" y="147.21" width="0.7" height="7.82"/><rect x="331.15" y="147.21" width="0.7" height="7.82"/><rect x="355.93" y="147.21" width="1.35" height="7.82"/><rect x="223.75" y="155.03" width="0.7" height="7.82"/><rect x="317.25" y="155.03" width="0.7" height="7.82"/><rect x="341.45" y="155.03" width="0.7" height="7.82"/><rect x="348.55" y="155.03" width="0.7" height="7.82"/><rect x="355.93" y="155.03" width="1.35" height="7.82"/><rect x="257.65" y="162.86" width="0.7" height="7.82"/><rect x="322.05" y="162.86" width="0.7" height="7.82"/><rect x="325.65" y="162.86" width="0.7" height="7.82"/><rect x="328.35" y="162.86" width="0.7" height="7.82"/><rect x="363.05" y="162.86" width="0.7" height="7.82"/><rect x="366.85" y="162.86" width="0.7" height="7.82"/><rect x="369.65" y="162.86" width="0.7" height="7.82"/><rect x="218.55" y="170.68" width="0.7" height="7.82"/><rect x="224.25" y="170.68" width="0.7" height="7.82"/><rect x="273.95" y="170.68" width="0.7" height="7.82"/><rect x="280.65" y="170.68" width="0.7" height="7.82"/><rect x="237.05" y="184.8" width="0.7" height="7.63"/><rect x="246.25" y="184.8" width="0.7" height="7.63"/><rect x="252.2" y="184.8" width="5.4" height="7.63"/><rect x="267.05" y="184.8" width="0.7" height="7.63"/><rect x="269.95" y="184.8" width="0.7" height="7.63"/><rect x="275.8" y="184.8" width="7.1" height="7.63"/><rect x="295.25" y="184.8" width="0.7" height="7.63"/><rect x="298.3" y="184.8" width="1.3" height="7.63"/><rect x="303.45" y="184.8" width="0.7" height="7.63"/><rect x="310.4" y="184.8" width="1.8" height="7.63"/><rect x="312.9" y="184.8" width="2.5" height="7.63"/><rect x="315.8" y="184.8" width="2.1" height="7.63"/><rect x="326.3" y="184.8" width="3.2" height="7.63"/><rect x="331.4" y="184.8" width="10.7" height="7.63"/><rect x="345" y="184.8" width="1.5" height="7.63"/><rect x="349.35" y="184.8" width="0.7" height="7.63"/><rect x="354.8" y="184.8" width="8.4" height="7.63"/><rect x="318.25" y="192.43" width="0.7" height="7.63"/><rect x="346.85" y="192.43" width="0.7" height="7.63"/><rect x="298.3" y="213.8" width="1.6" height="7.84"/><rect x="303.45" y="213.8" width="0.7" height="7.84"/><rect x="305.55" y="213.8" width="0.7" height="7.84"/><rect x="310.05" y="213.8" width="0.7" height="7.84"/><rect x="312.2" y="213.8" width="3.8" height="7.84"/><rect x="319.2" y="213.8" width="0.9" height="7.84"/><rect x="326.6" y="213.8" width="2.9" height="7.84"/><rect x="330.75" y="213.8" width="0.7" height="7.84"/><rect x="332.6" y="213.8" width="2.6" height="7.84"/><rect x="342.1" y="213.8" width="1.9" height="7.84"/><rect x="348.95" y="213.8" width="0.7" height="7.84"/><rect x="356.95" y="213.8" width="0.7" height="7.84"/><rect x="363.6" y="213.8" width="1.7" height="7.84"/><rect x="224.05" y="221.64" width="0.7" height="7.84"/><rect x="275.25" y="221.64" width="0.7" height="7.84"/><rect x="282.85" y="221.64" width="0.7" height="7.84"/><rect x="303.65" y="221.64" width="0.7" height="7.84"/><rect x="305.35" y="221.64" width="0.7" height="7.84"/><rect x="310.65" y="221.64" width="0.7" height="7.84"/><rect x="318.85" y="221.64" width="0.7" height="7.84"/><rect x="331.1" y="221.64" width="1.3" height="7.84"/><rect x="343.65" y="221.64" width="0.7" height="7.84"/><rect x="349.95" y="221.64" width="0.7" height="7.84"/><rect x="355.65" y="221.64" width="0.7" height="7.84"/><rect x="365.12" y="221.64" width="1.35" height="7.84"/><rect x="218.05" y="229.49" width="0.7" height="7.84"/><rect x="252.25" y="229.49" width="0.7" height="7.84"/><rect x="257.32" y="229.49" width="1.35" height="7.84"/><rect x="272.05" y="229.49" width="0.7" height="7.84"/><rect x="283.45" y="229.49" width="0.7" height="7.84"/><rect x="320.15" y="229.49" width="0.7" height="7.84"/><rect x="327.85" y="229.49" width="0.7" height="7.84"/><rect x="348.95" y="229.49" width="0.7" height="7.84"/><rect x="350.65" y="229.49" width="0.7" height="7.84"/><rect x="270.55" y="237.33" width="0.7" height="7.84"/><rect x="303.35" y="237.33" width="0.7" height="7.84"/><rect x="309.35" y="237.33" width="0.7" height="7.84"/><rect x="319.45" y="237.33" width="0.7" height="7.84"/><rect x="326.25" y="237.33" width="0.7" height="7.84"/><rect x="270.35" y="245.17" width="0.7" height="7.84"/><rect x="354.15" y="245.17" width="0.7" height="7.84"/><rect x="370.65" y="245.17" width="0.7" height="7.84"/><rect x="314.85" y="253.01" width="0.7" height="7.84"/><rect x="325.65" y="253.01" width="0.7" height="7.84"/><rect x="354.15" y="253.01" width="0.7" height="7.84"/><rect x="225.65" y="260.86" width="0.7" height="7.84"/><rect x="328.35" y="260.86" width="0.7" height="7.84"/><rect x="218.55" y="274.75" width="0.7" height="7.75"/><rect x="252.85" y="274.75" width="0.7" height="7.75"/><rect x="295.9" y="274.75" width="2" height="7.75"/><rect x="299.75" y="274.75" width="0.7" height="7.75"/><rect x="303.15" y="274.75" width="0.7" height="7.75"/><rect x="315.9" y="274.75" width="1.4" height="7.75"/><rect x="325.95" y="274.75" width="0.7" height="7.75"/><rect x="327.35" y="274.75" width="0.7" height="7.75"/><rect x="332.4" y="274.75" width="6.6" height="7.75"/><rect x="342.3" y="274.75" width="1.9" height="7.75"/><rect x="345.05" y="274.75" width="0.7" height="7.75"/><rect x="348.95" y="274.75" width="0.7" height="7.75"/><rect x="358" y="274.75" width="1" height="7.75"/><rect x="220.65" y="282.5" width="0.7" height="7.75"/><rect x="251.35" y="282.5" width="0.7" height="7.75"/><rect x="258.45" y="282.5" width="0.7" height="7.75"/><rect x="272.43" y="282.5" width="1.35" height="7.75"/><rect x="304.3" y="282.5" width="1.4" height="7.75"/><rect x="310.65" y="282.5" width="0.7" height="7.75"/><rect x="312.75" y="282.5" width="0.7" height="7.75"/><rect x="320.95" y="282.5" width="0.7" height="7.75"/><rect x="354.85" y="282.5" width="0.7" height="7.75"/><rect x="358.85" y="282.5" width="0.7" height="7.75"/><rect x="365.4" y="282.5" width="1.8" height="7.75"/><rect x="224.95" y="290.25" width="0.7" height="7.75"/><rect x="233.65" y="290.25" width="0.7" height="7.75"/><rect x="267.85" y="290.25" width="0.7" height="7.75"/><rect x="347.55" y="290.25" width="0.7" height="7.75"/><rect x="359.75" y="290.25" width="0.7" height="7.75"/><rect x="367.55" y="290.25" width="0.7" height="7.75"/><rect x="225.65" y="298" width="0.7" height="7.75"/><rect x="237.85" y="298" width="0.7" height="7.75"/><rect x="305.65" y="298" width="0.7" height="7.75"/><rect x="348.55" y="311.8" width="0.7" height="6.9"/><rect x="354.85" y="311.8" width="0.7" height="6.9"/><rect x="359.4" y="311.8" width="1.7" height="6.9"/><rect x="367.93" y="311.8" width="1.35" height="6.9"/></g>
<g><text x="287.48" y="12.2" font-size="7.3" fill="#3e8ec4" stroke="#3e8ec4" stroke-width="0.2" style="font-kerning:none"><tspan font-weight="bold" font-style="italic">IDH2</tspan></text></g>
<g><text x="284.39" y="21.1" font-size="7.2" fill="#3e8ec4" stroke="#3e8ec4" stroke-width="0.2" style="font-kerning:none"><tspan font-weight="bold">R 40Q</tspan></text><path transform="translate(289.593 21.1) scale(0.00352 -0.00352)" d="M478 0V1170L140 959V1180L493 1409H759V0Z" fill="#3e8ec4" stroke="#3e8ec4" stroke-width="56.89" stroke-linejoin="round"/></g>
<text x="404.9" y="23.4" font-size="7.3" fill="#231f20" stroke="#231f20" stroke-width="0.15" text-anchor="end">% N=229</text>
<g><text x="383.4" y="33.4" font-size="7.2" fill="#231f20" stroke="#231f20" stroke-width="0.25" text-anchor="end">50</text><text x="383.4" y="46.4" font-size="7.2" fill="#231f20" stroke="#231f20" stroke-width="0.25" text-anchor="end">38</text><text x="375.39" y="54.3" font-size="7.2" fill="#231f20" stroke="#231f20" stroke-width="0.25"> 5</text><path transform="translate(375.39 54.3) scale(0.00352 -0.00352)" d="M515 0V1237L197 1010V1180L530 1409H696V0Z" fill="#231f20" stroke="#231f20" stroke-width="71.11" stroke-linejoin="round"/><text x="383.4" y="62" font-size="7.2" fill="#231f20" stroke="#231f20" stroke-width="0.25" text-anchor="end">7</text><text x="383.4" y="70" font-size="7.2" fill="#231f20" stroke="#231f20" stroke-width="0.25" text-anchor="end">7</text><text x="383.4" y="77.8" font-size="7.2" fill="#231f20" stroke="#231f20" stroke-width="0.25" text-anchor="end">3</text><text x="383.4" y="85.6" font-size="7.2" fill="#231f20" stroke="#231f20" stroke-width="0.25" text-anchor="end">2</text><text x="379.4" y="93.3" font-size="7.2" fill="#231f20" stroke="#231f20" stroke-width="0.25"> </text><path transform="translate(379.4 93.3) scale(0.00352 -0.00352)" d="M515 0V1237L197 1010V1180L530 1409H696V0Z" fill="#231f20" stroke="#231f20" stroke-width="71.11" stroke-linejoin="round"/><text x="379.4" y="101.3" font-size="7.2" fill="#231f20" stroke="#231f20" stroke-width="0.25"> </text><path transform="translate(379.4 101.3) scale(0.00352 -0.00352)" d="M515 0V1237L197 1010V1180L530 1409H696V0Z" fill="#231f20" stroke="#231f20" stroke-width="71.11" stroke-linejoin="round"/><text x="383.4" y="114.2" font-size="7.2" fill="#231f20" stroke="#231f20" stroke-width="0.25" text-anchor="end">28</text><text x="375.39" y="122.2" font-size="7.2" fill="#231f20" stroke="#231f20" stroke-width="0.25"> 0</text><path transform="translate(375.39 122.2) scale(0.00352 -0.00352)" d="M515 0V1237L197 1010V1180L530 1409H696V0Z" fill="#231f20" stroke="#231f20" stroke-width="71.11" stroke-linejoin="round"/><text x="383.4" y="130.4" font-size="7.2" fill="#231f20" stroke="#231f20" stroke-width="0.25" text-anchor="end">5</text><text x="383.4" y="138.4" font-size="7.2" fill="#231f20" stroke="#231f20" stroke-width="0.25" text-anchor="end">8</text><text x="383.4" y="146.2" font-size="7.2" fill="#231f20" stroke="#231f20" stroke-width="0.25" text-anchor="end">3</text><text x="383.4" y="154.3" font-size="7.2" fill="#231f20" stroke="#231f20" stroke-width="0.25" text-anchor="end">2</text><text x="383.4" y="162.2" font-size="7.2" fill="#231f20" stroke="#231f20" stroke-width="0.25" text-anchor="end">2</text><text x="383.4" y="170.2" font-size="7.2" fill="#231f20" stroke="#231f20" stroke-width="0.25" text-anchor="end">3</text><text x="383.4" y="177.9" font-size="7.2" fill="#231f20" stroke="#231f20" stroke-width="0.25" text-anchor="end">2</text><text x="375.39" y="191.9" font-size="7.2" fill="#231f20" stroke="#231f20" stroke-width="0.25">3 </text><path transform="translate(379.4 191.9) scale(0.00352 -0.00352)" d="M515 0V1237L197 1010V1180L530 1409H696V0Z" fill="#231f20" stroke="#231f20" stroke-width="71.11" stroke-linejoin="round"/><text x="379.4" y="199.6" font-size="7.2" fill="#231f20" stroke="#231f20" stroke-width="0.25"> </text><path transform="translate(379.4 199.6) scale(0.00352 -0.00352)" d="M515 0V1237L197 1010V1180L530 1409H696V0Z" fill="#231f20" stroke="#231f20" stroke-width="71.11" stroke-linejoin="round"/><text x="383.4" y="207.3" font-size="7.2" fill="#231f20" stroke="#231f20" stroke-width="0.25" text-anchor="end">0</text><text x="375.39" y="220.4" font-size="7.2" fill="#231f20" stroke="#231f20" stroke-width="0.25">  </text><path transform="translate(375.39 220.4) scale(0.00352 -0.00352)" d="M515 0V1237L197 1010V1180L530 1409H696V0Z" fill="#231f20" stroke="#231f20" stroke-width="71.11" stroke-linejoin="round"/><path transform="translate(379.4 220.4) scale(0.00352 -0.00352)" d="M515 0V1237L197 1010V1180L530 1409H696V0Z" fill="#231f20" stroke="#231f20" stroke-width="71.11" stroke-linejoin="round"/><text x="383.4" y="228.7" font-size="7.2" fill="#231f20" stroke="#231f20" stroke-width="0.25" text-anchor="end">6</text><text x="383.4" y="236.5" font-size="7.2" fill="#231f20" stroke="#231f20" stroke-width="0.25" text-anchor="end">4</text><text x="383.4" y="244.3" font-size="7.2" fill="#231f20" stroke="#231f20" stroke-width="0.25" text-anchor="end">2</text><text x="379.4" y="252.3" font-size="7.2" fill="#231f20" stroke="#231f20" stroke-width="0.25"> </text><path transform="translate(379.4 252.3) scale(0.00352 -0.00352)" d="M515 0V1237L197 1010V1180L530 1409H696V0Z" fill="#231f20" stroke="#231f20" stroke-width="71.11" stroke-linejoin="round"/><text x="379.4" y="260.3" font-size="7.2" fill="#231f20" stroke="#231f20" stroke-width="0.25"> </text><path transform="translate(379.4 260.3) scale(0.00352 -0.00352)" d="M515 0V1237L197 1010V1180L530 1409H696V0Z" fill="#231f20" stroke="#231f20" stroke-width="71.11" stroke-linejoin="round"/><text x="379.4" y="268.3" font-size="7.2" fill="#231f20" stroke="#231f20" stroke-width="0.25"> </text><path transform="translate(379.4 268.3) scale(0.00352 -0.00352)" d="M515 0V1237L197 1010V1180L530 1409H696V0Z" fill="#231f20" stroke="#231f20" stroke-width="71.11" stroke-linejoin="round"/><text x="375.39" y="281.3" font-size="7.2" fill="#231f20" stroke="#231f20" stroke-width="0.25">  </text><path transform="translate(375.39 281.3) scale(0.00352 -0.00352)" d="M515 0V1237L197 1010V1180L530 1409H696V0Z" fill="#231f20" stroke="#231f20" stroke-width="71.11" stroke-linejoin="round"/><path transform="translate(379.4 281.3) scale(0.00352 -0.00352)" d="M515 0V1237L197 1010V1180L530 1409H696V0Z" fill="#231f20" stroke="#231f20" stroke-width="71.11" stroke-linejoin="round"/><text x="383.4" y="289.1" font-size="7.2" fill="#231f20" stroke="#231f20" stroke-width="0.25" text-anchor="end">6</text><text x="383.4" y="296.8" font-size="7.2" fill="#231f20" stroke="#231f20" stroke-width="0.25" text-anchor="end">3</text><text x="379.4" y="304.7" font-size="7.2" fill="#231f20" stroke="#231f20" stroke-width="0.25"> </text><path transform="translate(379.4 304.7) scale(0.00352 -0.00352)" d="M515 0V1237L197 1010V1180L530 1409H696V0Z" fill="#231f20" stroke="#231f20" stroke-width="71.11" stroke-linejoin="round"/><text x="383.4" y="318.1" font-size="7.2" fill="#231f20" stroke="#231f20" stroke-width="0.25" text-anchor="end">3</text></g>
<g fill="#58a2d0"><rect x="385" y="27.1" width="10.25" height="6.1"/><rect x="385" y="39.55" width="7.79" height="6.91"/><rect x="385" y="47.36" width="3.07" height="6.91"/><rect x="385" y="55.17" width="1.43" height="6.91"/><rect x="385" y="62.99" width="1.43" height="6.91"/><rect x="385" y="70.8" width="0.61" height="6.91"/><rect x="385" y="78.61" width="0.41" height="6.91"/><rect x="385" y="86.42" width="0.2" height="6.91"/><rect x="385" y="94.24" width="0.2" height="6.91"/><rect x="385" y="108.4" width="5.74" height="6.92"/><rect x="385" y="116.22" width="2.05" height="6.92"/><rect x="385" y="124.04" width="1.02" height="6.92"/><rect x="385" y="131.87" width="1.64" height="6.92"/><rect x="385" y="139.69" width="0.61" height="6.92"/><rect x="385" y="147.51" width="0.41" height="6.92"/><rect x="385" y="155.33" width="0.41" height="6.92"/><rect x="385" y="163.16" width="0.61" height="6.92"/><rect x="385" y="170.98" width="0.41" height="6.92"/><rect x="385" y="185.1" width="6.35" height="6.73"/><rect x="385" y="192.73" width="0.2" height="6.73"/><rect x="385" y="214.1" width="2.25" height="6.94"/><rect x="385" y="221.94" width="1.23" height="6.94"/><rect x="385" y="229.79" width="0.82" height="6.94"/><rect x="385" y="237.63" width="0.41" height="6.94"/><rect x="385" y="245.47" width="0.2" height="6.94"/><rect x="385" y="253.31" width="0.2" height="6.94"/><rect x="385" y="261.16" width="0.2" height="6.94"/><rect x="385" y="275.05" width="2.25" height="6.85"/><rect x="385" y="282.8" width="1.23" height="6.85"/><rect x="385" y="290.55" width="0.61" height="6.85"/><rect x="385" y="298.3" width="0.2" height="6.85"/><rect x="385" y="312.1" width="0.61" height="6"/></g>
<rect x="406.9" y="26.8" width="33.4" height="7" fill="#e3e3e3"/>
<rect x="406.9" y="39.25" width="33.4" height="62.5" fill="#e3e3e3"/>
<rect x="406.9" y="108.1" width="33.4" height="70.4" fill="#e3e3e3"/>
<rect x="406.9" y="184.8" width="33.4" height="22.9" fill="#e3e3e3"/>
<rect x="406.9" y="213.8" width="33.4" height="54.9" fill="#e3e3e3"/>
<rect x="406.9" y="274.75" width="33.4" height="31" fill="#e3e3e3"/>
<rect x="406.9" y="311.8" width="33.4" height="6.9" fill="#e3e3e3"/>
<g fill="#e47ab2"><rect x="406.8" y="26.8" width="1.3" height="7"/><rect x="406.8" y="39.25" width="25.2" height="7.81"/><rect x="406.8" y="47.06" width="5.5" height="7.81"/><rect x="432.6" y="47.06" width="1.5" height="7.81"/><rect x="408.05" y="54.88" width="0.7" height="7.81"/><rect x="412.55" y="54.88" width="0.7" height="7.81"/><rect x="433.75" y="54.88" width="0.7" height="7.81"/><rect x="408.95" y="62.69" width="0.7" height="7.81"/><rect x="414.1" y="62.69" width="1.2" height="7.81"/><rect x="432.75" y="62.69" width="0.7" height="7.81"/><rect x="434.25" y="62.69" width="0.7" height="7.81"/><rect x="438.35" y="70.5" width="0.7" height="7.81"/><rect x="421.02" y="78.31" width="1.35" height="7.81"/><rect x="434.25" y="78.31" width="0.7" height="7.81"/><rect x="438.75" y="78.31" width="0.7" height="7.81"/><rect x="406.9" y="108.1" width="2.8" height="7.82"/><rect x="415.4" y="108.1" width="2.4" height="7.82"/><rect x="414.05" y="115.92" width="0.7" height="7.82"/><rect x="434.35" y="115.92" width="0.7" height="7.82"/><rect x="418.25" y="123.74" width="0.7" height="7.82"/><rect x="432.35" y="123.74" width="0.7" height="7.82"/><rect x="435.75" y="123.74" width="0.7" height="7.82"/><rect x="407.25" y="131.57" width="0.7" height="7.82"/><rect x="415.45" y="131.57" width="0.7" height="7.82"/><rect x="407.55" y="155.03" width="0.7" height="7.82"/><rect x="414.05" y="155.03" width="0.7" height="7.82"/><rect x="418.45" y="184.8" width="0.7" height="7.63"/><rect x="432.35" y="184.8" width="0.7" height="7.63"/><rect x="414.45" y="192.43" width="0.7" height="7.63"/><rect x="426.95" y="200.07" width="0.7" height="7.63"/><rect x="414.05" y="213.8" width="0.7" height="7.84"/><rect x="418.8" y="213.8" width="2.7" height="7.84"/><rect x="432.35" y="213.8" width="0.7" height="7.84"/><rect x="436.02" y="213.8" width="1.35" height="7.84"/><rect x="406.95" y="221.64" width="0.7" height="7.84"/><rect x="414.05" y="229.49" width="0.7" height="7.84"/><rect x="421.55" y="229.49" width="0.7" height="7.84"/><rect x="414.85" y="237.33" width="0.7" height="7.84"/><rect x="435.6" y="237.33" width="3.4" height="7.84"/><rect x="435.45" y="245.17" width="0.7" height="7.84"/><rect x="422.45" y="274.75" width="0.7" height="7.75"/><rect x="436.1" y="274.75" width="1.8" height="7.75"/><rect x="414.35" y="282.5" width="0.7" height="7.75"/><rect x="422.72" y="282.5" width="1.35" height="7.75"/><rect x="422.05" y="298" width="0.7" height="7.75"/><rect x="419.25" y="311.8" width="0.7" height="6.9"/><rect x="432.95" y="311.8" width="0.7" height="6.9"/></g>
<g><text x="415.28" y="12.2" font-size="7.3" fill="#e47ab2" stroke="#e47ab2" stroke-width="0.2" style="font-kerning:none"><tspan font-weight="bold" font-style="italic">IDH2</tspan></text></g>
<g><text x="412.39" y="21.1" font-size="7.2" fill="#e47ab2" stroke="#e47ab2" stroke-width="0.2" style="font-kerning:none"><tspan font-weight="bold">R 72K</tspan></text><path transform="translate(417.594 21.1) scale(0.00352 -0.00352)" d="M478 0V1170L140 959V1180L493 1409H759V0Z" fill="#e47ab2" stroke="#e47ab2" stroke-width="56.89" stroke-linejoin="round"/></g>
<text x="468.4" y="23.4" font-size="7.3" fill="#231f20" stroke="#231f20" stroke-width="0.15" text-anchor="end">% N=50</text>
<g><text x="450.5" y="33.4" font-size="7.2" fill="#231f20" stroke="#231f20" stroke-width="0.25" text-anchor="end">4</text><text x="450.5" y="46.4" font-size="7.2" fill="#231f20" stroke="#231f20" stroke-width="0.25" text-anchor="end">76</text><text x="450.5" y="54.3" font-size="7.2" fill="#231f20" stroke="#231f20" stroke-width="0.25" text-anchor="end">20</text><text x="450.5" y="62" font-size="7.2" fill="#231f20" stroke="#231f20" stroke-width="0.25" text-anchor="end">8</text><text x="442.49" y="70" font-size="7.2" fill="#231f20" stroke="#231f20" stroke-width="0.25"> 0</text><path transform="translate(442.49 70) scale(0.00352 -0.00352)" d="M515 0V1237L197 1010V1180L530 1409H696V0Z" fill="#231f20" stroke="#231f20" stroke-width="71.11" stroke-linejoin="round"/><text x="450.5" y="77.8" font-size="7.2" fill="#231f20" stroke="#231f20" stroke-width="0.25" text-anchor="end">2</text><text x="450.5" y="85.6" font-size="7.2" fill="#231f20" stroke="#231f20" stroke-width="0.25" text-anchor="end">8</text><text x="450.5" y="93.3" font-size="7.2" fill="#231f20" stroke="#231f20" stroke-width="0.25" text-anchor="end">0</text><text x="450.5" y="101.3" font-size="7.2" fill="#231f20" stroke="#231f20" stroke-width="0.25" text-anchor="end">0</text><text x="442.49" y="114.2" font-size="7.2" fill="#231f20" stroke="#231f20" stroke-width="0.25"> 2</text><path transform="translate(442.49 114.2) scale(0.00352 -0.00352)" d="M515 0V1237L197 1010V1180L530 1409H696V0Z" fill="#231f20" stroke="#231f20" stroke-width="71.11" stroke-linejoin="round"/><text x="450.5" y="122.2" font-size="7.2" fill="#231f20" stroke="#231f20" stroke-width="0.25" text-anchor="end">4</text><text x="450.5" y="130.4" font-size="7.2" fill="#231f20" stroke="#231f20" stroke-width="0.25" text-anchor="end">6</text><text x="450.5" y="138.4" font-size="7.2" fill="#231f20" stroke="#231f20" stroke-width="0.25" text-anchor="end">4</text><text x="450.5" y="146.2" font-size="7.2" fill="#231f20" stroke="#231f20" stroke-width="0.25" text-anchor="end">0</text><text x="450.5" y="154.3" font-size="7.2" fill="#231f20" stroke="#231f20" stroke-width="0.25" text-anchor="end">0</text><text x="450.5" y="162.2" font-size="7.2" fill="#231f20" stroke="#231f20" stroke-width="0.25" text-anchor="end">4</text><text x="450.5" y="170.2" font-size="7.2" fill="#231f20" stroke="#231f20" stroke-width="0.25" text-anchor="end">0</text><text x="450.5" y="177.9" font-size="7.2" fill="#231f20" stroke="#231f20" stroke-width="0.25" text-anchor="end">0</text><text x="450.5" y="191.9" font-size="7.2" fill="#231f20" stroke="#231f20" stroke-width="0.25" text-anchor="end">4</text><text x="450.5" y="199.6" font-size="7.2" fill="#231f20" stroke="#231f20" stroke-width="0.25" text-anchor="end">2</text><text x="450.5" y="207.3" font-size="7.2" fill="#231f20" stroke="#231f20" stroke-width="0.25" text-anchor="end">2</text><text x="442.49" y="220.4" font-size="7.2" fill="#231f20" stroke="#231f20" stroke-width="0.25"> 4</text><path transform="translate(442.49 220.4) scale(0.00352 -0.00352)" d="M515 0V1237L197 1010V1180L530 1409H696V0Z" fill="#231f20" stroke="#231f20" stroke-width="71.11" stroke-linejoin="round"/><text x="450.5" y="228.7" font-size="7.2" fill="#231f20" stroke="#231f20" stroke-width="0.25" text-anchor="end">2</text><text x="450.5" y="236.5" font-size="7.2" fill="#231f20" stroke="#231f20" stroke-width="0.25" text-anchor="end">4</text><text x="442.49" y="244.3" font-size="7.2" fill="#231f20" stroke="#231f20" stroke-width="0.25"> 0</text><path transform="translate(442.49 244.3) scale(0.00352 -0.00352)" d="M515 0V1237L197 1010V1180L530 1409H696V0Z" fill="#231f20" stroke="#231f20" stroke-width="71.11" stroke-linejoin="round"/><text x="450.5" y="252.3" font-size="7.2" fill="#231f20" stroke="#231f20" stroke-width="0.25" text-anchor="end">2</text><text x="450.5" y="260.3" font-size="7.2" fill="#231f20" stroke="#231f20" stroke-width="0.25" text-anchor="end">0</text><text x="450.5" y="268.3" font-size="7.2" fill="#231f20" stroke="#231f20" stroke-width="0.25" text-anchor="end">0</text><text x="450.5" y="281.3" font-size="7.2" fill="#231f20" stroke="#231f20" stroke-width="0.25" text-anchor="end">6</text><text x="450.5" y="289.1" font-size="7.2" fill="#231f20" stroke="#231f20" stroke-width="0.25" text-anchor="end">6</text><text x="450.5" y="296.8" font-size="7.2" fill="#231f20" stroke="#231f20" stroke-width="0.25" text-anchor="end">0</text><text x="450.5" y="304.7" font-size="7.2" fill="#231f20" stroke="#231f20" stroke-width="0.25" text-anchor="end">2</text><text x="450.5" y="318.1" font-size="7.2" fill="#231f20" stroke="#231f20" stroke-width="0.25" text-anchor="end">4</text></g>
<g fill="#e47ab2"><rect x="452" y="27.1" width="0.65" height="6.1"/><rect x="452" y="39.55" width="12.39" height="6.91"/><rect x="452" y="47.36" width="3.26" height="6.91"/><rect x="452" y="55.17" width="1.3" height="6.91"/><rect x="452" y="62.99" width="1.63" height="6.91"/><rect x="452" y="70.8" width="0.33" height="6.91"/><rect x="452" y="78.61" width="1.3" height="6.91"/><rect x="452" y="108.4" width="1.96" height="6.92"/><rect x="452" y="116.22" width="0.65" height="6.92"/><rect x="452" y="124.04" width="0.98" height="6.92"/><rect x="452" y="131.87" width="0.65" height="6.92"/><rect x="452" y="155.33" width="0.65" height="6.92"/><rect x="452" y="185.1" width="0.65" height="6.73"/><rect x="452" y="192.73" width="0.33" height="6.73"/><rect x="452" y="200.37" width="0.33" height="6.73"/><rect x="452" y="214.1" width="2.28" height="6.94"/><rect x="452" y="221.94" width="0.33" height="6.94"/><rect x="452" y="229.79" width="0.65" height="6.94"/><rect x="452" y="237.63" width="1.63" height="6.94"/><rect x="452" y="245.47" width="0.33" height="6.94"/><rect x="452" y="275.05" width="0.98" height="6.85"/><rect x="452" y="282.8" width="0.98" height="6.85"/><rect x="452" y="298.3" width="0.33" height="6.85"/><rect x="452" y="312.1" width="0.65" height="6"/></g>
<rect x="481.6" y="9.6" width="31.9" height="311.2" fill="none" stroke="#d6d6d6" stroke-width="0.7"/>
<rect x="482" y="26.8" width="31.1" height="7" fill="#f3f3f3"/>
<rect x="482" y="39.25" width="31.1" height="62.5" fill="#f3f3f3"/>
<rect x="482" y="108.1" width="31.1" height="70.4" fill="#f3f3f3"/>
<rect x="482" y="184.8" width="31.1" height="22.9" fill="#f3f3f3"/>
<rect x="482" y="213.8" width="31.1" height="54.9" fill="#f3f3f3"/>
<rect x="482" y="274.75" width="31.1" height="31" fill="#f3f3f3"/>
<rect x="482" y="311.8" width="31.1" height="6.9" fill="#f3f3f3"/>
<text x="483.3" y="16.2" font-size="7.3" font-weight="bold" font-style="italic" fill="#e64858" stroke="#e64858" stroke-width="0.2">IDH-wt</text>
<text x="481.6" y="24.2" font-size="6.45" fill="#231f20" stroke="#231f20" stroke-width="0.15">% N= 050</text><path transform="translate(497.55 24.2) scale(0.00315 -0.00315)" d="M515 0V1237L197 1010V1180L530 1409H696V0Z" fill="#231f20" stroke="#231f20" stroke-width="47.63" stroke-linejoin="round"/>
<g><text x="490" y="33.4" font-size="7.2" fill="#231f20" stroke="#231f20" stroke-width="0.25" text-anchor="end">30</text><text x="490" y="46.4" font-size="7.2" fill="#231f20" stroke="#231f20" stroke-width="0.25" text-anchor="end">24</text><text x="490" y="54.3" font-size="7.2" fill="#231f20" stroke="#231f20" stroke-width="0.25" text-anchor="end">8</text><text x="490" y="62" font-size="7.2" fill="#231f20" stroke="#231f20" stroke-width="0.25" text-anchor="end">4</text><text x="490" y="70" font-size="7.2" fill="#231f20" stroke="#231f20" stroke-width="0.25" text-anchor="end">20</text><text x="490" y="77.8" font-size="7.2" fill="#231f20" stroke="#231f20" stroke-width="0.25" text-anchor="end">3</text><text x="490" y="85.6" font-size="7.2" fill="#231f20" stroke="#231f20" stroke-width="0.25" text-anchor="end">3</text><text x="486" y="93.3" font-size="7.2" fill="#231f20" stroke="#231f20" stroke-width="0.25"> </text><path transform="translate(486 93.3) scale(0.00352 -0.00352)" d="M515 0V1237L197 1010V1180L530 1409H696V0Z" fill="#231f20" stroke="#231f20" stroke-width="71.11" stroke-linejoin="round"/><text x="486" y="101.3" font-size="7.2" fill="#231f20" stroke="#231f20" stroke-width="0.25"> </text><path transform="translate(486 101.3) scale(0.00352 -0.00352)" d="M515 0V1237L197 1010V1180L530 1409H696V0Z" fill="#231f20" stroke="#231f20" stroke-width="71.11" stroke-linejoin="round"/><text x="490" y="114.2" font-size="7.2" fill="#231f20" stroke="#231f20" stroke-width="0.25" text-anchor="end">24</text><text x="481.99" y="122.2" font-size="7.2" fill="#231f20" stroke="#231f20" stroke-width="0.25"> 8</text><path transform="translate(481.99 122.2) scale(0.00352 -0.00352)" d="M515 0V1237L197 1010V1180L530 1409H696V0Z" fill="#231f20" stroke="#231f20" stroke-width="71.11" stroke-linejoin="round"/><text x="490" y="130.4" font-size="7.2" fill="#231f20" stroke="#231f20" stroke-width="0.25" text-anchor="end">8</text><text x="490" y="138.4" font-size="7.2" fill="#231f20" stroke="#231f20" stroke-width="0.25" text-anchor="end">8</text><text x="490" y="146.2" font-size="7.2" fill="#231f20" stroke="#231f20" stroke-width="0.25" text-anchor="end">7</text><text x="490" y="154.3" font-size="7.2" fill="#231f20" stroke="#231f20" stroke-width="0.25" text-anchor="end">2</text><text x="486" y="162.2" font-size="7.2" fill="#231f20" stroke="#231f20" stroke-width="0.25"> </text><path transform="translate(486 162.2) scale(0.00352 -0.00352)" d="M515 0V1237L197 1010V1180L530 1409H696V0Z" fill="#231f20" stroke="#231f20" stroke-width="71.11" stroke-linejoin="round"/><text x="486" y="170.2" font-size="7.2" fill="#231f20" stroke="#231f20" stroke-width="0.25"> </text><path transform="translate(486 170.2) scale(0.00352 -0.00352)" d="M515 0V1237L197 1010V1180L530 1409H696V0Z" fill="#231f20" stroke="#231f20" stroke-width="71.11" stroke-linejoin="round"/><text x="490" y="177.9" font-size="7.2" fill="#231f20" stroke="#231f20" stroke-width="0.25" text-anchor="end">6</text><text x="490" y="191.9" font-size="7.2" fill="#231f20" stroke="#231f20" stroke-width="0.25" text-anchor="end">4</text><text x="490" y="199.6" font-size="7.2" fill="#231f20" stroke="#231f20" stroke-width="0.25" text-anchor="end">3</text><text x="490" y="207.3" font-size="7.2" fill="#231f20" stroke="#231f20" stroke-width="0.25" text-anchor="end">4</text><text x="481.99" y="220.4" font-size="7.2" fill="#231f20" stroke="#231f20" stroke-width="0.25"> 0</text><path transform="translate(481.99 220.4) scale(0.00352 -0.00352)" d="M515 0V1237L197 1010V1180L530 1409H696V0Z" fill="#231f20" stroke="#231f20" stroke-width="71.11" stroke-linejoin="round"/><text x="481.99" y="228.7" font-size="7.2" fill="#231f20" stroke="#231f20" stroke-width="0.25"> 2</text><path transform="translate(481.99 228.7) scale(0.00352 -0.00352)" d="M515 0V1237L197 1010V1180L530 1409H696V0Z" fill="#231f20" stroke="#231f20" stroke-width="71.11" stroke-linejoin="round"/><text x="490" y="236.5" font-size="7.2" fill="#231f20" stroke="#231f20" stroke-width="0.25" text-anchor="end">9</text><text x="490" y="244.3" font-size="7.2" fill="#231f20" stroke="#231f20" stroke-width="0.25" text-anchor="end">3</text><text x="490" y="252.3" font-size="7.2" fill="#231f20" stroke="#231f20" stroke-width="0.25" text-anchor="end">2</text><text x="490" y="260.3" font-size="7.2" fill="#231f20" stroke="#231f20" stroke-width="0.25" text-anchor="end">3</text><text x="490" y="268.3" font-size="7.2" fill="#231f20" stroke="#231f20" stroke-width="0.25" text-anchor="end">5</text><text x="490" y="281.3" font-size="7.2" fill="#231f20" stroke="#231f20" stroke-width="0.25" text-anchor="end">4</text><text x="490" y="289.1" font-size="7.2" fill="#231f20" stroke="#231f20" stroke-width="0.25" text-anchor="end">2</text><text x="490" y="296.8" font-size="7.2" fill="#231f20" stroke="#231f20" stroke-width="0.25" text-anchor="end">4</text><text x="486" y="304.7" font-size="7.2" fill="#231f20" stroke="#231f20" stroke-width="0.25"> </text><path transform="translate(486 304.7) scale(0.00352 -0.00352)" d="M515 0V1237L197 1010V1180L530 1409H696V0Z" fill="#231f20" stroke="#231f20" stroke-width="71.11" stroke-linejoin="round"/><text x="490" y="318.1" font-size="7.2" fill="#231f20" stroke="#231f20" stroke-width="0.25" text-anchor="end">9</text></g>
<g fill="#e64858"><rect x="491.3" y="27.1" width="6.66" height="6.1"/><rect x="491.3" y="39.55" width="5.33" height="6.91"/><rect x="491.3" y="47.36" width="1.78" height="6.91"/><rect x="491.3" y="55.17" width="0.89" height="6.91"/><rect x="491.3" y="62.99" width="4.44" height="6.91"/><rect x="491.3" y="70.8" width="0.67" height="6.91"/><rect x="491.3" y="78.61" width="0.67" height="6.91"/><rect x="491.3" y="86.42" width="0.22" height="6.91"/><rect x="491.3" y="94.24" width="0.22" height="6.91"/><rect x="491.3" y="108.4" width="5.33" height="6.92"/><rect x="491.3" y="116.22" width="4" height="6.92"/><rect x="491.3" y="124.04" width="1.78" height="6.92"/><rect x="491.3" y="131.87" width="1.78" height="6.92"/><rect x="491.3" y="139.69" width="1.55" height="6.92"/><rect x="491.3" y="147.51" width="0.44" height="6.92"/><rect x="491.3" y="155.33" width="0.22" height="6.92"/><rect x="491.3" y="163.16" width="0.22" height="6.92"/><rect x="491.3" y="170.98" width="1.33" height="6.92"/><rect x="491.3" y="185.1" width="0.89" height="6.73"/><rect x="491.3" y="192.73" width="0.67" height="6.73"/><rect x="491.3" y="200.37" width="0.89" height="6.73"/><rect x="491.3" y="214.1" width="2.22" height="6.94"/><rect x="491.3" y="221.94" width="2.66" height="6.94"/><rect x="491.3" y="229.79" width="2" height="6.94"/><rect x="491.3" y="237.63" width="0.67" height="6.94"/><rect x="491.3" y="245.47" width="0.44" height="6.94"/><rect x="491.3" y="253.31" width="0.67" height="6.94"/><rect x="491.3" y="261.16" width="1.11" height="6.94"/><rect x="491.3" y="275.05" width="0.89" height="6.85"/><rect x="491.3" y="282.8" width="0.44" height="6.85"/><rect x="491.3" y="290.55" width="0.89" height="6.85"/><rect x="491.3" y="298.3" width="0.22" height="6.85"/><rect x="491.3" y="312.1" width="2" height="6"/></g>
<text x="8.6" y="340.6" font-size="10.2" font-weight="bold" fill="#000" stroke="#000" stroke-width="0.3">B</text>
<g transform="translate(9.6 388.9) scale(1.0088 1)"><text x="0" y="0" font-size="8.9" fill="#231f20" stroke="#231f20" stroke-width="0.18" style="font-kerning:none"><tspan font-style="italic">NPM </tspan><tspan>-mut</tspan></text><path transform="translate(19.777 0) scale(0.00435 -0.00435)" d="M412 0L650 1223L289 1000L324 1180L701 1409H867L593 0Z" fill="#231f20" stroke="#231f20" stroke-width="41.42" stroke-linejoin="round"/></g>
<g transform="translate(11 404.7) scale(1.0186 1)"><text x="0" y="0" font-size="8.9" fill="#231f20" stroke="#231f20" stroke-width="0.18" style="font-kerning:none"><tspan font-style="italic">DNMT3A</tspan><tspan>-mut</tspan></text></g>
<g><text x="8.7" y="421.2" font-size="8.9" fill="#231f20" stroke="#231f20" stroke-width="0.18" style="font-kerning:none"><tspan font-style="italic">ASXL </tspan><tspan>-mut</tspan></text><path transform="translate(31.458 421.2) scale(0.00435 -0.00435)" d="M412 0L650 1223L289 1000L324 1180L701 1409H867L593 0Z" fill="#231f20" stroke="#231f20" stroke-width="41.42" stroke-linejoin="round"/></g>
<g transform="translate(9.5 437.4) scale(0.9965 1)"><text x="0" y="0" font-size="8.9" fill="#231f20" stroke="#231f20" stroke-width="0.18" style="font-kerning:none"><tspan font-style="italic">RUNX </tspan><tspan>-mut</tspan></text><path transform="translate(25.218 0) scale(0.00435 -0.00435)" d="M412 0L650 1223L289 1000L324 1180L701 1409H867L593 0Z" fill="#231f20" stroke="#231f20" stroke-width="41.42" stroke-linejoin="round"/></g>
<g transform="translate(10.5 453.8) scale(0.9504 1)"><text x="0" y="0" font-size="8.9" fill="#231f20" stroke="#231f20" stroke-width="0.19" style="font-kerning:none"><tspan font-style="italic">FLT3-ITD</tspan><tspan>-mut</tspan></text></g>
<g><text x="8.8" y="470.1" font-size="8.9" fill="#231f20" stroke="#231f20" stroke-width="0.18" style="font-kerning:none"><tspan font-style="italic">NRAS</tspan><tspan>-mut</tspan></text></g>
<g transform="translate(9.5 485.9) scale(0.9857 1)"><text x="0" y="0" font-size="8.9" fill="#231f20" stroke="#231f20" stroke-width="0.18" style="font-kerning:none"><tspan font-style="italic">PTPN  </tspan><tspan>-mut</tspan></text><path transform="translate(23.736 0) scale(0.00435 -0.00435)" d="M412 0L650 1223L289 1000L324 1180L701 1409H867L593 0Z" fill="#231f20" stroke="#231f20" stroke-width="41.42" stroke-linejoin="round"/><path transform="translate(28.686 0) scale(0.00435 -0.00435)" d="M412 0L650 1223L289 1000L324 1180L701 1409H867L593 0Z" fill="#231f20" stroke="#231f20" stroke-width="41.42" stroke-linejoin="round"/></g>
<g transform="translate(10.5 501.8) scale(0.9606 1)"><text x="0" y="0" font-size="8.9" fill="#231f20" stroke="#231f20" stroke-width="0.19" style="font-kerning:none"><tspan font-style="italic">FLT3-TKD</tspan><tspan>-mut</tspan></text></g>
<g><text x="76.4" y="347.1" font-size="8.8" fill="#9b8f58" stroke="#9b8f58" stroke-width="0.25" style="font-kerning:none"><tspan font-weight="bold">R 32C</tspan></text><path transform="translate(82.759 347.1) scale(0.00430 -0.00430)" d="M478 0V1170L140 959V1180L493 1409H759V0Z" fill="#9b8f58" stroke="#9b8f58" stroke-width="58.18" stroke-linejoin="round"/></g>
<text x="93.1" y="361.5" font-size="8.9" fill="#231f20" stroke="#231f20" stroke-width="0.18" text-anchor="middle">Hazard ratio (95% CI)</text>
<text x="93.1" y="372.6" font-size="8.9" fill="#231f20" stroke="#231f20" stroke-width="0.18" text-anchor="middle">for OS</text>
<text x="147.2" y="377.6" font-size="8.9" font-style="italic" fill="#231f20" stroke="#231f20" stroke-width="0.18" text-anchor="middle">P</text>
<line x1="90.55" y1="378" x2="90.55" y2="515.5" stroke="#000" stroke-width="1.15" stroke-dasharray="1.1 1.53"/>
<rect x="70.6" y="385.7" width="12.1" height="1.2" fill="#262626"/>
<rect x="72.85" y="383.6" width="5.3" height="5.4" fill="#c8102e"/>
<text x="135.98" y="389.9" font-size="9.2" fill="#231f20" stroke="#231f20" stroke-width="0.18">0.00 </text><path transform="translate(153.88 389.9) scale(0.00449 -0.00449)" d="M515 0V1237L197 1010V1180L530 1409H696V0Z" fill="#231f20" stroke="#231f20" stroke-width="40.07" stroke-linejoin="round"/>
<rect x="96.3" y="401.5" width="34.1" height="1.2" fill="#262626"/>
<rect x="116.95" y="399.4" width="5.3" height="5.4" fill="#c8102e"/>
<text x="159" y="405.7" font-size="9.2" fill="#231f20" stroke="#231f20" stroke-width="0.18" text-anchor="end">0.008</text>
<rect x="75" y="418" width="55.4" height="1.2" fill="#262626"/>
<rect x="89.85" y="415.9" width="5.3" height="5.4" fill="#c8102e"/>
<text x="135.98" y="422.2" font-size="9.2" fill="#231f20" stroke="#231f20" stroke-width="0.18">0.89 </text><path transform="translate(153.88 422.2) scale(0.00449 -0.00449)" d="M515 0V1237L197 1010V1180L530 1409H696V0Z" fill="#231f20" stroke="#231f20" stroke-width="40.07" stroke-linejoin="round"/>
<rect x="80.3" y="434.2" width="50.1" height="1.2" fill="#262626"/>
<rect x="100.25" y="432.1" width="5.3" height="5.4" fill="#c8102e"/>
<text x="159" y="438.4" font-size="9.2" fill="#231f20" stroke="#231f20" stroke-width="0.18" text-anchor="end">0.370</text>
<rect x="62.7" y="515.1" width="69.37" height="1.1" fill="#111"/>
<rect x="62.7" y="515.1" width="1" height="3.7" fill="#111"/>
<g transform="translate(63.2 527.3) scale(0.92 1)"><text x="0" y="0" font-size="7.2" fill="#231f20" stroke="#231f20" stroke-width="0.15" text-anchor="middle">0.0</text></g>
<rect x="76.38" y="515.1" width="1" height="3.7" fill="#111"/>
<g transform="translate(76.88 527.3) scale(0.92 1)"><text x="0" y="0" font-size="7.2" fill="#231f20" stroke="#231f20" stroke-width="0.15" text-anchor="middle">0.5</text></g>
<rect x="90.05" y="515.1" width="1" height="3.7" fill="#111"/>
<g transform="translate(90.55 527.3) scale(0.92 1)"><text x="-5" y="0" font-size="7.2" fill="#231f20" stroke="#231f20" stroke-width="0.15"> .0</text><path transform="translate(-5 0) scale(0.00352 -0.00352)" d="M515 0V1237L197 1010V1180L530 1409H696V0Z" fill="#231f20" stroke="#231f20" stroke-width="42.67" stroke-linejoin="round"/></g>
<rect x="103.73" y="515.1" width="1" height="3.7" fill="#111"/>
<g transform="translate(104.23 527.3) scale(0.92 1)"><text x="-5" y="0" font-size="7.2" fill="#231f20" stroke="#231f20" stroke-width="0.15"> .5</text><path transform="translate(-5 0) scale(0.00352 -0.00352)" d="M515 0V1237L197 1010V1180L530 1409H696V0Z" fill="#231f20" stroke="#231f20" stroke-width="42.67" stroke-linejoin="round"/></g>
<rect x="117.4" y="515.1" width="1" height="3.7" fill="#111"/>
<g transform="translate(117.9 527.3) scale(0.92 1)"><text x="0" y="0" font-size="7.2" fill="#231f20" stroke="#231f20" stroke-width="0.15" text-anchor="middle">2.0</text></g>
<rect x="131.07" y="515.1" width="1" height="3.7" fill="#111"/>
<g transform="translate(131.57 527.3) scale(0.92 1)"><text x="0" y="0" font-size="7.2" fill="#231f20" stroke="#231f20" stroke-width="0.15" text-anchor="middle">2.5</text></g>
<path d="M60.5 533.3 L67.9 529.7 L67.9 536.9 Z" fill="#000"/>
<rect x="67.5" y="532.4" width="16.5" height="1.8" fill="#000"/>
<path d="M126.5 533.3 L119.1 529.7 L119.1 536.9 Z" fill="#000"/>
<rect x="103.5" y="532.4" width="16" height="1.8" fill="#000"/>
<text transform="translate(73 545.6) scale(0.72 1)" font-size="8.6" fill="#111" stroke="#111" stroke-width="0.4" text-anchor="middle">Lower risk</text>
<text transform="translate(115.8 545.6) scale(0.72 1)" font-size="8.6" fill="#111" stroke="#111" stroke-width="0.4" text-anchor="middle">Higher risk</text>
<g><text x="195.7" y="347.1" font-size="8.8" fill="#4ca358" stroke="#4ca358" stroke-width="0.25" style="font-kerning:none"><tspan font-weight="bold">R 32H</tspan></text><path transform="translate(202.059 347.1) scale(0.00430 -0.00430)" d="M478 0V1170L140 959V1180L493 1409H759V0Z" fill="#4ca358" stroke="#4ca358" stroke-width="58.18" stroke-linejoin="round"/></g>
<text x="212.9" y="361.5" font-size="8.9" fill="#231f20" stroke="#231f20" stroke-width="0.18" text-anchor="middle">Hazard ratio (95% CI)</text>
<text x="212.9" y="372.6" font-size="8.9" fill="#231f20" stroke="#231f20" stroke-width="0.18" text-anchor="middle">for OS</text>
<text x="269.4" y="377.6" font-size="8.9" font-style="italic" fill="#231f20" stroke="#231f20" stroke-width="0.18" text-anchor="middle">P</text>
<line x1="212.2" y1="378" x2="212.2" y2="515.5" stroke="#000" stroke-width="1.15" stroke-dasharray="1.1 1.53"/>
<rect x="193.8" y="385.7" width="12.5" height="1.2" fill="#262626"/>
<rect x="196.15" y="383.6" width="5.3" height="5.4" fill="#c8102e"/>
<text x="282" y="389.9" font-size="9.2" fill="#231f20" stroke="#231f20" stroke-width="0.18" text-anchor="end">0.002</text>
<rect x="200" y="401.5" width="43.8" height="1.2" fill="#262626"/>
<rect x="212.65" y="399.4" width="5.3" height="5.4" fill="#c8102e"/>
<text x="282" y="405.7" font-size="9.2" fill="#231f20" stroke="#231f20" stroke-width="0.18" text-anchor="end">0.705</text>
<rect x="201.8" y="450.6" width="25.7" height="1.2" fill="#262626"/>
<rect x="209.35" y="448.5" width="5.3" height="5.4" fill="#c8102e"/>
<text x="282" y="454.8" font-size="9.2" fill="#231f20" stroke="#231f20" stroke-width="0.18" text-anchor="end">0.975</text>
<rect x="194.3" y="466.9" width="58.7" height="1.2" fill="#262626"/>
<rect x="215.35" y="464.8" width="5.3" height="5.4" fill="#c8102e"/>
<text x="282" y="471.1" font-size="9.2" fill="#231f20" stroke="#231f20" stroke-width="0.18" text-anchor="end">0.740</text>
<rect x="198.3" y="482.7" width="54.2" height="1.2" fill="#262626"/>
<rect x="221.85" y="480.6" width="5.3" height="5.4" fill="#c8102e"/>
<text x="282" y="486.9" font-size="9.2" fill="#231f20" stroke="#231f20" stroke-width="0.18" text-anchor="end">0.463</text>
<rect x="194.3" y="498.6" width="55" height="1.2" fill="#262626"/>
<rect x="207.85" y="496.5" width="5.3" height="5.4" fill="#c8102e"/>
<text x="282" y="502.8" font-size="9.2" fill="#231f20" stroke="#231f20" stroke-width="0.18" text-anchor="end">0.897</text>
<rect x="184.5" y="515.1" width="69" height="1.1" fill="#111"/>
<rect x="184.5" y="515.1" width="1" height="3.7" fill="#111"/>
<g transform="translate(185 527.3) scale(0.92 1)"><text x="0" y="0" font-size="7.2" fill="#231f20" stroke="#231f20" stroke-width="0.15" text-anchor="middle">0.0</text></g>
<rect x="198.1" y="515.1" width="1" height="3.7" fill="#111"/>
<g transform="translate(198.6 527.3) scale(0.92 1)"><text x="0" y="0" font-size="7.2" fill="#231f20" stroke="#231f20" stroke-width="0.15" text-anchor="middle">0.5</text></g>
<rect x="211.7" y="515.1" width="1" height="3.7" fill="#111"/>
<g transform="translate(212.2 527.3) scale(0.92 1)"><text x="-5" y="0" font-size="7.2" fill="#231f20" stroke="#231f20" stroke-width="0.15"> .0</text><path transform="translate(-5 0) scale(0.00352 -0.00352)" d="M515 0V1237L197 1010V1180L530 1409H696V0Z" fill="#231f20" stroke="#231f20" stroke-width="42.67" stroke-linejoin="round"/></g>
<rect x="225.3" y="515.1" width="1" height="3.7" fill="#111"/>
<g transform="translate(225.8 527.3) scale(0.92 1)"><text x="-5" y="0" font-size="7.2" fill="#231f20" stroke="#231f20" stroke-width="0.15"> .5</text><path transform="translate(-5 0) scale(0.00352 -0.00352)" d="M515 0V1237L197 1010V1180L530 1409H696V0Z" fill="#231f20" stroke="#231f20" stroke-width="42.67" stroke-linejoin="round"/></g>
<rect x="238.9" y="515.1" width="1" height="3.7" fill="#111"/>
<g transform="translate(239.4 527.3) scale(0.92 1)"><text x="0" y="0" font-size="7.2" fill="#231f20" stroke="#231f20" stroke-width="0.15" text-anchor="middle">2.0</text></g>
<rect x="252.5" y="515.1" width="1" height="3.7" fill="#111"/>
<g transform="translate(253 527.3) scale(0.92 1)"><text x="0" y="0" font-size="7.2" fill="#231f20" stroke="#231f20" stroke-width="0.15" text-anchor="middle">2.5</text></g>
<path d="M182.3 533.3 L189.7 529.7 L189.7 536.9 Z" fill="#000"/>
<rect x="189.3" y="532.4" width="16.5" height="1.8" fill="#000"/>
<path d="M248.3 533.3 L240.9 529.7 L240.9 536.9 Z" fill="#000"/>
<rect x="225.3" y="532.4" width="16" height="1.8" fill="#000"/>
<text transform="translate(194.8 545.6) scale(0.72 1)" font-size="8.6" fill="#111" stroke="#111" stroke-width="0.4" text-anchor="middle">Lower risk</text>
<text transform="translate(237.6 545.6) scale(0.72 1)" font-size="8.6" fill="#111" stroke="#111" stroke-width="0.4" text-anchor="middle">Higher risk</text>
<g><text x="316.16" y="347.1" font-size="8.8" fill="#3e8ec4" stroke="#3e8ec4" stroke-width="0.25" style="font-kerning:none"><tspan font-weight="bold">R 40Q</tspan></text><path transform="translate(322.514 347.1) scale(0.00430 -0.00430)" d="M478 0V1170L140 959V1180L493 1409H759V0Z" fill="#3e8ec4" stroke="#3e8ec4" stroke-width="58.18" stroke-linejoin="round"/></g>
<text x="333.1" y="361.5" font-size="8.9" fill="#231f20" stroke="#231f20" stroke-width="0.18" text-anchor="middle">Hazard ratio (95% CI)</text>
<text x="333.1" y="372.6" font-size="8.9" fill="#231f20" stroke="#231f20" stroke-width="0.18" text-anchor="middle">for OS</text>
<text x="385.4" y="377.6" font-size="8.9" font-style="italic" fill="#231f20" stroke="#231f20" stroke-width="0.18" text-anchor="middle">P</text>
<line x1="327.7" y1="378" x2="327.7" y2="515.5" stroke="#000" stroke-width="1.15" stroke-dasharray="1.1 1.53"/>
<rect x="313" y="385.7" width="9.5" height="1.2" fill="#262626"/>
<rect x="314.85" y="383.6" width="5.3" height="5.4" fill="#c8102e"/>
<text x="366.6" y="389.9" font-size="9.2" fill="#231f20" stroke="#231f20" stroke-width="0.18">&lt;0.00 </text><path transform="translate(389.88 389.9) scale(0.00449 -0.00449)" d="M515 0V1237L197 1010V1180L530 1409H696V0Z" fill="#231f20" stroke="#231f20" stroke-width="40.07" stroke-linejoin="round"/>
<rect x="323.8" y="401.5" width="26.7" height="1.2" fill="#262626"/>
<rect x="332.15" y="399.4" width="5.3" height="5.4" fill="#c8102e"/>
<text x="395" y="405.7" font-size="9.2" fill="#231f20" stroke="#231f20" stroke-width="0.18" text-anchor="end">0.226</text>
<rect x="320.8" y="450.6" width="16.2" height="1.2" fill="#262626"/>
<rect x="325.35" y="448.5" width="5.3" height="5.4" fill="#c8102e"/>
<text x="395" y="454.8" font-size="9.2" fill="#231f20" stroke="#231f20" stroke-width="0.18" text-anchor="end">0.966</text>
<rect x="299.5" y="515.1" width="70.25" height="1.1" fill="#111"/>
<rect x="299.5" y="515.1" width="1" height="3.7" fill="#111"/>
<g transform="translate(300 527.3) scale(0.92 1)"><text x="0" y="0" font-size="7.2" fill="#231f20" stroke="#231f20" stroke-width="0.15" text-anchor="middle">0.0</text></g>
<rect x="313.35" y="515.1" width="1" height="3.7" fill="#111"/>
<g transform="translate(313.85 527.3) scale(0.92 1)"><text x="0" y="0" font-size="7.2" fill="#231f20" stroke="#231f20" stroke-width="0.15" text-anchor="middle">0.5</text></g>
<rect x="327.2" y="515.1" width="1" height="3.7" fill="#111"/>
<g transform="translate(327.7 527.3) scale(0.92 1)"><text x="-5" y="0" font-size="7.2" fill="#231f20" stroke="#231f20" stroke-width="0.15"> .0</text><path transform="translate(-5 0) scale(0.00352 -0.00352)" d="M515 0V1237L197 1010V1180L530 1409H696V0Z" fill="#231f20" stroke="#231f20" stroke-width="42.67" stroke-linejoin="round"/></g>
<rect x="341.05" y="515.1" width="1" height="3.7" fill="#111"/>
<g transform="translate(341.55 527.3) scale(0.92 1)"><text x="-5" y="0" font-size="7.2" fill="#231f20" stroke="#231f20" stroke-width="0.15"> .5</text><path transform="translate(-5 0) scale(0.00352 -0.00352)" d="M515 0V1237L197 1010V1180L530 1409H696V0Z" fill="#231f20" stroke="#231f20" stroke-width="42.67" stroke-linejoin="round"/></g>
<rect x="354.9" y="515.1" width="1" height="3.7" fill="#111"/>
<g transform="translate(355.4 527.3) scale(0.92 1)"><text x="0" y="0" font-size="7.2" fill="#231f20" stroke="#231f20" stroke-width="0.15" text-anchor="middle">2.0</text></g>
<rect x="368.75" y="515.1" width="1" height="3.7" fill="#111"/>
<g transform="translate(369.25 527.3) scale(0.92 1)"><text x="0" y="0" font-size="7.2" fill="#231f20" stroke="#231f20" stroke-width="0.15" text-anchor="middle">2.5</text></g>
<path d="M297.3 533.3 L304.7 529.7 L304.7 536.9 Z" fill="#000"/>
<rect x="304.3" y="532.4" width="16.5" height="1.8" fill="#000"/>
<path d="M363.3 533.3 L355.9 529.7 L355.9 536.9 Z" fill="#000"/>
<rect x="340.3" y="532.4" width="16" height="1.8" fill="#000"/>
<text transform="translate(309.8 545.6) scale(0.72 1)" font-size="8.6" fill="#111" stroke="#111" stroke-width="0.4" text-anchor="middle">Lower risk</text>
<text transform="translate(352.6 545.6) scale(0.72 1)" font-size="8.6" fill="#111" stroke="#111" stroke-width="0.4" text-anchor="middle">Higher risk</text>
<g><text x="431.05" y="347.1" font-size="8.8" fill="#e47ab2" stroke="#e47ab2" stroke-width="0.25" style="font-kerning:none"><tspan font-weight="bold">R 72K</tspan></text><path transform="translate(437.409 347.1) scale(0.00430 -0.00430)" d="M478 0V1170L140 959V1180L493 1409H759V0Z" fill="#e47ab2" stroke="#e47ab2" stroke-width="58.18" stroke-linejoin="round"/></g>
<text x="448.1" y="361.5" font-size="8.9" fill="#231f20" stroke="#231f20" stroke-width="0.18" text-anchor="middle">Hazard ratio (95% CI)</text>
<text x="448.1" y="372.6" font-size="8.9" fill="#231f20" stroke="#231f20" stroke-width="0.18" text-anchor="middle">for OS</text>
<text x="500" y="377.6" font-size="8.9" font-style="italic" fill="#231f20" stroke="#231f20" stroke-width="0.18" text-anchor="middle">P</text>
<line x1="443.55" y1="378" x2="443.55" y2="515.5" stroke="#000" stroke-width="1.15" stroke-dasharray="1.1 1.53"/>
<rect x="435" y="401.5" width="48.8" height="1.2" fill="#262626"/>
<rect x="450.35" y="399.4" width="5.3" height="5.4" fill="#c8102e"/>
<text x="512.5" y="405.7" font-size="9.2" fill="#231f20" stroke="#231f20" stroke-width="0.18" text-anchor="end">0.366</text>
<rect x="432.5" y="418" width="51.3" height="1.2" fill="#262626"/>
<rect x="447.35" y="415.9" width="5.3" height="5.4" fill="#c8102e"/>
<text x="489.48" y="422.2" font-size="9.2" fill="#231f20" stroke="#231f20" stroke-width="0.18">0.56 </text><path transform="translate(507.38 422.2) scale(0.00449 -0.00449)" d="M515 0V1237L197 1010V1180L530 1409H696V0Z" fill="#231f20" stroke="#231f20" stroke-width="40.07" stroke-linejoin="round"/>
<rect x="415.75" y="515.1" width="69.25" height="1.1" fill="#111"/>
<rect x="415.75" y="515.1" width="1" height="3.7" fill="#111"/>
<g transform="translate(416.25 527.3) scale(0.92 1)"><text x="0" y="0" font-size="7.2" fill="#231f20" stroke="#231f20" stroke-width="0.15" text-anchor="middle">0.0</text></g>
<rect x="429.4" y="515.1" width="1" height="3.7" fill="#111"/>
<g transform="translate(429.9 527.3) scale(0.92 1)"><text x="0" y="0" font-size="7.2" fill="#231f20" stroke="#231f20" stroke-width="0.15" text-anchor="middle">0.5</text></g>
<rect x="443.05" y="515.1" width="1" height="3.7" fill="#111"/>
<g transform="translate(443.55 527.3) scale(0.92 1)"><text x="-5" y="0" font-size="7.2" fill="#231f20" stroke="#231f20" stroke-width="0.15"> .0</text><path transform="translate(-5 0) scale(0.00352 -0.00352)" d="M515 0V1237L197 1010V1180L530 1409H696V0Z" fill="#231f20" stroke="#231f20" stroke-width="42.67" stroke-linejoin="round"/></g>
<rect x="456.7" y="515.1" width="1" height="3.7" fill="#111"/>
<g transform="translate(457.2 527.3) scale(0.92 1)"><text x="-5" y="0" font-size="7.2" fill="#231f20" stroke="#231f20" stroke-width="0.15"> .5</text><path transform="translate(-5 0) scale(0.00352 -0.00352)" d="M515 0V1237L197 1010V1180L530 1409H696V0Z" fill="#231f20" stroke="#231f20" stroke-width="42.67" stroke-linejoin="round"/></g>
<rect x="470.35" y="515.1" width="1" height="3.7" fill="#111"/>
<g transform="translate(470.85 527.3) scale(0.92 1)"><text x="0" y="0" font-size="7.2" fill="#231f20" stroke="#231f20" stroke-width="0.15" text-anchor="middle">2.0</text></g>
<rect x="484" y="515.1" width="1" height="3.7" fill="#111"/>
<g transform="translate(484.5 527.3) scale(0.92 1)"><text x="0" y="0" font-size="7.2" fill="#231f20" stroke="#231f20" stroke-width="0.15" text-anchor="middle">2.5</text></g>
<path d="M413.55 533.3 L420.95 529.7 L420.95 536.9 Z" fill="#000"/>
<rect x="420.55" y="532.4" width="16.5" height="1.8" fill="#000"/>
<path d="M479.55 533.3 L472.15 529.7 L472.15 536.9 Z" fill="#000"/>
<rect x="456.55" y="532.4" width="16" height="1.8" fill="#000"/>
<text transform="translate(426.05 545.6) scale(0.72 1)" font-size="8.6" fill="#111" stroke="#111" stroke-width="0.4" text-anchor="middle">Lower risk</text>
<text transform="translate(468.85 545.6) scale(0.72 1)" font-size="8.6" fill="#111" stroke="#111" stroke-width="0.4" text-anchor="middle">Higher risk</text>
<rect x="0" y="0" width="520" height="1.1" fill="#000"/>
<rect x="0" y="0" width="1.2" height="554" fill="#000"/>
<rect x="518.9" y="0" width="1.1" height="554" fill="#000"/>
<rect x="0" y="552.7" width="520" height="1.3" fill="#000"/>
</svg>
</body></html>
